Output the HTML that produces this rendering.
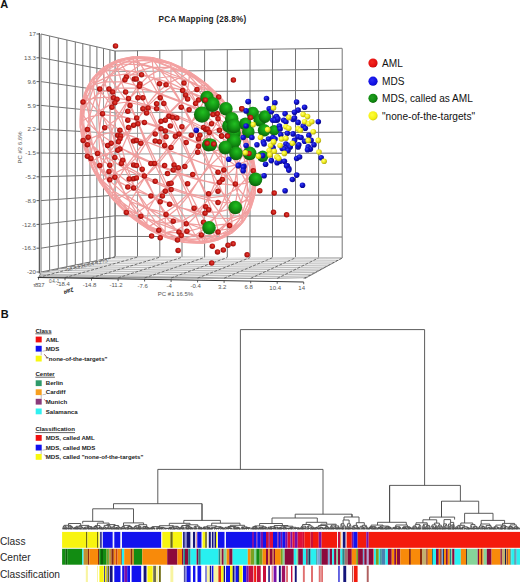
<!DOCTYPE html><html><head><meta charset="utf-8"><style>html,body{margin:0;padding:0;background:#fff;}svg{display:block;}text{font-family:"Liberation Sans",sans-serif;}</style></head><body>
<svg width="520" height="582" viewBox="0 0 520 582">
<defs>
<radialGradient id="gr" cx="0.55" cy="0.45" r="0.7"><stop offset="0" stop-color="#e2443c"/><stop offset="0.45" stop-color="#c41812"/><stop offset="1" stop-color="#760808"/></radialGradient>
<radialGradient id="gb" cx="0.38" cy="0.35" r="0.7"><stop offset="0" stop-color="#3a44f0"/><stop offset="0.45" stop-color="#1010d0"/><stop offset="1" stop-color="#0a0a80"/></radialGradient>
<radialGradient id="gy" cx="0.38" cy="0.35" r="0.7"><stop offset="0" stop-color="#ffff80"/><stop offset="0.45" stop-color="#f4f020"/><stop offset="1" stop-color="#a8a010"/></radialGradient>
<radialGradient id="gg" cx="0.55" cy="0.35" r="0.75"><stop offset="0" stop-color="#22c022"/><stop offset="0.5" stop-color="#129012"/><stop offset="1" stop-color="#0a500a"/></radialGradient>
<radialGradient id="lgr" cx="0.4" cy="0.4" r="0.65"><stop offset="0" stop-color="#f42a20"/><stop offset="0.7" stop-color="#e41010"/><stop offset="1" stop-color="#b80c0c"/></radialGradient>
<radialGradient id="lgb" cx="0.4" cy="0.4" r="0.65"><stop offset="0" stop-color="#2a2af4"/><stop offset="0.7" stop-color="#1010e4"/><stop offset="1" stop-color="#0c0cb0"/></radialGradient>
<radialGradient id="lgg" cx="0.4" cy="0.4" r="0.65"><stop offset="0" stop-color="#20a020"/><stop offset="0.7" stop-color="#108810"/><stop offset="1" stop-color="#0a600a"/></radialGradient>
<radialGradient id="lgy" cx="0.4" cy="0.4" r="0.65"><stop offset="0" stop-color="#ffff40"/><stop offset="0.7" stop-color="#f4f010"/><stop offset="1" stop-color="#c8c010"/></radialGradient>
</defs>
<rect width="520" height="582" fill="#fff"/>
<text x="0.3" y="8.4" font-size="11" font-weight="bold" fill="#111">A</text>
<text x="158.5" y="21.6" font-size="8.2" font-weight="bold" fill="#222" textLength="87.8" lengthAdjust="spacing">PCA Mapping (28.8%)</text>
<path d="M41.0 34.0V273.0 M49.6 36.0V271.1 M58.3 38.0V269.3 M66.9 40.0V267.4 M75.3 41.9V265.6 M82.8 43.6V264.0 M90.0 45.3V262.4 M96.9 46.8V260.9 M103.5 48.4V259.5 M109.9 49.8V258.1 M115.0 51.0V257.0 M41 34.0L115 51.0 M41 57.8L115 71.6 M41 81.6L115 92.2 M41 105.4L115 112.8 M41 129.2L115 133.4 M41 153.0L115 154.0 M41 176.8L115 174.6 M41 200.6L115 195.2 M41 224.4L115 215.8 M41 248.2L115 236.4 M41 272.0L115 257.0 M115.2 51.0V257.0 M137.5 50.7V257.1 M159.8 50.5V257.2 M182.0 50.2V257.3 M204.6 49.9V257.4 M227.3 49.7V257.5 M250.0 49.4V257.6 M272.5 49.1V257.7 M295.5 48.9V257.8 M318.6 48.6V257.9 M342.2 48.3V258.0 M115 51.0L342 48.3 M115 71.6L342 69.3 M115 92.2L342 90.2 M115 112.8L342 111.2 M115 133.4L342 132.2 M115 154.0L342 153.1 M115 174.6L342 174.1 M115 195.2L342 195.1 M115 215.8L342 216.1 M115 236.4L342 237.0 M115 257.0L342 258.0" stroke="#747474" stroke-width="1" fill="none"/>
<path d="M39.3 33V273.5" stroke="#333" stroke-width="1" fill="none"/>
<path d="M36.5 34.0H39.3" stroke="#333" stroke-width="0.8"/>
<text x="36" y="36.2" font-size="6.2" fill="#555" text-anchor="end">17</text>
<path d="M36.5 57.8H39.3" stroke="#333" stroke-width="0.8"/>
<text x="36" y="60.0" font-size="6.2" fill="#555" text-anchor="end">13.3</text>
<path d="M36.5 81.6H39.3" stroke="#333" stroke-width="0.8"/>
<text x="36" y="83.8" font-size="6.2" fill="#555" text-anchor="end">9.6</text>
<path d="M36.5 105.4H39.3" stroke="#333" stroke-width="0.8"/>
<text x="36" y="107.6" font-size="6.2" fill="#555" text-anchor="end">5.9</text>
<path d="M36.5 129.2H39.3" stroke="#333" stroke-width="0.8"/>
<text x="36" y="131.4" font-size="6.2" fill="#555" text-anchor="end">2.2</text>
<path d="M36.5 153.0H39.3" stroke="#333" stroke-width="0.8"/>
<text x="36" y="155.2" font-size="6.2" fill="#555" text-anchor="end">-1.5</text>
<path d="M36.5 176.8H39.3" stroke="#333" stroke-width="0.8"/>
<text x="36" y="179.0" font-size="6.2" fill="#555" text-anchor="end">-5.2</text>
<path d="M36.5 200.6H39.3" stroke="#333" stroke-width="0.8"/>
<text x="36" y="202.8" font-size="6.2" fill="#555" text-anchor="end">-8.9</text>
<path d="M36.5 224.4H39.3" stroke="#333" stroke-width="0.8"/>
<text x="36" y="226.6" font-size="6.2" fill="#555" text-anchor="end">-12.6</text>
<path d="M36.5 248.2H39.3" stroke="#333" stroke-width="0.8"/>
<text x="36" y="250.4" font-size="6.2" fill="#555" text-anchor="end">-16.3</text>
<path d="M36.5 272.0H39.3" stroke="#333" stroke-width="0.8"/>
<text x="36" y="274.2" font-size="6.2" fill="#555" text-anchor="end">-20</text>
<text transform="translate(21.5,147.5) rotate(-90)" font-size="6" fill="#555" text-anchor="middle">PC #2 6.6%</text>
<polygon points="41,273 115,257 342,258 305,278.5 38.5,277.5" fill="#bdbdbd" stroke="#6a6a6a" stroke-width="0.8"/>
<path d="M41.0 273.0L305.0 278.5 M49.6 271.1L309.3 276.1 M58.3 269.3L313.6 273.7 M66.9 267.4L317.9 271.3 M75.3 265.6L322.1 269.0 M82.8 264.0L325.9 266.9 M90.0 262.4L329.5 264.9 M96.9 260.9L332.9 263.0 M103.5 259.5L336.2 261.2 M109.9 258.1L339.4 259.4 M115.0 257.0L342.0 258.0" stroke="#f2f2f2" stroke-width="1" fill="none"/>
<path d="M38.5 277.5L115.2 257.0 M65.0 277.6L137.5 257.1 M91.5 277.7L159.8 257.2 M118.1 277.8L182.0 257.3 M144.6 277.9L204.6 257.4 M171.1 278.0L227.3 257.5 M197.6 278.1L250.0 257.6 M224.1 278.2L272.5 257.7 M250.7 278.3L295.5 257.8 M277.2 278.4L318.6 257.9 M303.7 278.5L342.2 258.0" stroke="#555" stroke-width="0.8" stroke-dasharray="3 1.5" fill="none"/>
<path d="M37.7 277.5L303.7 282" stroke="#333" stroke-width="1" fill="none"/>
<path d="M38.5 277.5v2.2" stroke="#333" stroke-width="0.8"/>
<path d="M65.0 278.0v2.2" stroke="#333" stroke-width="0.8"/>
<text x="63.0" y="286.2" font-size="6" fill="#555" text-anchor="middle">-18.4</text>
<path d="M91.5 278.4v2.2" stroke="#333" stroke-width="0.8"/>
<text x="89.5" y="286.6" font-size="6" fill="#555" text-anchor="middle">-14.8</text>
<path d="M118.1 278.9v2.2" stroke="#333" stroke-width="0.8"/>
<text x="116.1" y="287.1" font-size="6" fill="#555" text-anchor="middle">-11.2</text>
<path d="M144.6 279.3v2.2" stroke="#333" stroke-width="0.8"/>
<text x="142.6" y="287.5" font-size="6" fill="#555" text-anchor="middle">-7.6</text>
<path d="M171.1 279.8v2.2" stroke="#333" stroke-width="0.8"/>
<text x="169.1" y="288.0" font-size="6" fill="#555" text-anchor="middle">-4</text>
<path d="M197.6 280.2v2.2" stroke="#333" stroke-width="0.8"/>
<text x="195.6" y="288.4" font-size="6" fill="#555" text-anchor="middle">-0.4</text>
<path d="M224.1 280.7v2.2" stroke="#333" stroke-width="0.8"/>
<text x="222.1" y="288.9" font-size="6" fill="#555" text-anchor="middle">3.2</text>
<path d="M250.7 281.1v2.2" stroke="#333" stroke-width="0.8"/>
<text x="248.7" y="289.3" font-size="6" fill="#555" text-anchor="middle">6.8</text>
<path d="M277.2 281.6v2.2" stroke="#333" stroke-width="0.8"/>
<text x="275.2" y="289.8" font-size="6" fill="#555" text-anchor="middle">10.4</text>
<path d="M303.7 282.0v2.2" stroke="#333" stroke-width="0.8"/>
<text x="301.7" y="290.2" font-size="6" fill="#555" text-anchor="middle">14</text>
<text x="33" y="286.8" font-size="6" fill="#555" letter-spacing="-0.7">т83.7</text>
<text x="49" y="283.3" font-size="4.6" fill="#555" letter-spacing="-0.3">0.4.-1</text>
<text transform="translate(64,294.3) rotate(-22) skewX(-15)" font-size="6.2" font-weight="bold" fill="#222">ʁɐɀ</text>
<text transform="translate(66,271.5) rotate(-12.5)" font-size="4.6" fill="#555" letter-spacing="-0.3">-1.3 -5.9 2.6 -8.4 -4.2 7.3</text>
<text x="175.5" y="295.5" font-size="6" fill="#555" text-anchor="middle">PC #1 16.5%</text>
<ellipse cx="168.05" cy="149.95" rx="105.0" ry="74.3" transform="rotate(50.14 168.05 149.95)" fill="#fff" opacity="0.3"/>
<path d="M122.0 148.5L137.7 156.1 M122.0 148.5L128.0 134.8 M122.0 148.5L126.9 166.9 M122.0 148.5L110.6 152.3 M122.0 148.5L111.2 132.5 M137.7 156.1L157.6 164.7 M137.7 156.1L128.0 134.8 M137.7 156.1L146.7 141.9 M137.7 156.1L126.9 166.9 M137.7 156.1L145.5 176.9 M157.6 164.7L179.2 172.9 M157.6 164.7L146.7 141.9 M157.6 164.7L169.0 150.4 M157.6 164.7L145.5 176.9 M157.6 164.7L167.8 186.5 M179.2 172.9L199.0 179.4 M179.2 172.9L169.0 150.4 M179.2 172.9L191.3 158.9 M179.2 172.9L167.8 186.5 M179.2 172.9L190.1 193.8 M199.0 179.4L214.7 183.7 M199.0 179.4L191.3 158.9 M199.0 179.4L209.8 165.9 M199.0 179.4L190.1 193.8 M199.0 179.4L208.7 197.9 M214.7 183.7L209.8 165.9 M214.7 183.7L208.7 197.9 M214.7 183.7L225.4 195.8 M214.7 183.7L226.0 176.1 M128.0 134.8L146.7 141.9 M128.0 134.8L137.0 119.7 M128.0 134.8L111.2 132.5 M128.0 134.8L117.7 116.2 M146.7 141.9L169.0 150.4 M146.7 141.9L137.0 119.7 M146.7 141.9L158.1 126.4 M169.0 150.4L191.3 158.9 M169.0 150.4L158.1 126.4 M169.0 150.4L181.1 135.2 M191.3 158.9L209.8 165.9 M191.3 158.9L181.1 135.2 M191.3 158.9L201.9 144.3 M209.8 165.9L201.9 144.3 M209.8 165.9L226.0 176.1 M209.8 165.9L220.8 155.3 M137.0 119.7L158.1 126.4 M137.0 119.7L148.4 105.4 M137.0 119.7L117.7 116.2 M137.0 119.7L128.2 99.8 M158.1 126.4L181.1 135.2 M158.1 126.4L148.4 105.4 M158.1 126.4L170.1 112.5 M181.1 135.2L201.9 144.3 M181.1 135.2L170.1 112.5 M181.1 135.2L191.7 121.8 M201.9 144.3L191.7 121.8 M201.9 144.3L220.8 155.3 M201.9 144.3L211.6 131.5 M148.4 105.4L170.1 112.5 M148.4 105.4L160.2 94.4 M148.4 105.4L128.2 99.8 M148.4 105.4L141.2 86.7 M170.1 112.5L191.7 121.8 M170.1 112.5L160.2 94.4 M170.1 112.5L180.7 102.1 M191.7 121.8L180.7 102.1 M191.7 121.8L211.6 131.5 M191.7 121.8L199.6 108.9 M160.2 94.4L180.7 102.1 M160.2 94.4L170.7 87.3 M160.2 94.4L141.2 86.7 M160.2 94.4L154.2 78.5 M180.7 102.1L170.7 87.3 M180.7 102.1L199.6 108.9 M180.7 102.1L187.3 91.1 M170.7 87.3L154.2 78.5 M170.7 87.3L187.3 91.1 M170.7 87.3L170.9 76.5 M126.9 166.9L134.7 187.5 M126.9 166.9L145.5 176.9 M126.9 166.9L110.6 152.3 M126.9 166.9L115.8 172.7 M134.7 187.5L145.0 207.1 M134.7 187.5L145.5 176.9 M134.7 187.5L155.6 198.7 M134.7 187.5L115.8 172.7 M134.7 187.5L125.0 194.4 M145.0 207.1L155.9 222.4 M145.0 207.1L155.6 198.7 M145.0 207.1L166.5 217.3 M145.0 207.1L125.0 194.4 M145.0 207.1L136.9 213.2 M155.9 222.4L165.8 232.5 M155.9 222.4L166.5 217.3 M155.9 222.4L176.3 230.2 M155.9 222.4L136.9 213.2 M155.9 222.4L149.2 226.4 M165.8 232.5L176.3 230.2 M165.8 232.5L149.2 226.4 M165.8 232.5L182.2 238.9 M165.8 232.5L165.4 236.6 M145.5 176.9L155.6 198.7 M145.5 176.9L167.8 186.5 M155.6 198.7L166.5 217.3 M155.6 198.7L167.8 186.5 M155.6 198.7L178.7 207.4 M166.5 217.3L176.3 230.2 M166.5 217.3L178.7 207.4 M166.5 217.3L188.2 223.5 M176.3 230.2L188.2 223.5 M176.3 230.2L182.2 238.9 M176.3 230.2L195.3 235.3 M167.8 186.5L178.7 207.4 M167.8 186.5L190.1 193.8 M178.7 207.4L188.2 223.5 M178.7 207.4L190.1 193.8 M178.7 207.4L199.6 212.1 M188.2 223.5L199.6 212.1 M188.2 223.5L195.3 235.3 M188.2 223.5L208.4 226.1 M190.1 193.8L199.6 212.1 M190.1 193.8L208.7 197.9 M199.6 212.1L208.7 197.9 M199.6 212.1L208.4 226.1 M199.6 212.1L218.9 211.8 M208.7 197.9L218.9 211.8 M208.7 197.9L225.4 195.8 M110.6 152.3L100.1 156.6 M110.6 152.3L115.8 172.7 M110.6 152.3L111.2 132.5 M110.6 152.3L98.7 135.2 M100.1 156.6L93.0 160.8 M100.1 156.6L115.8 172.7 M100.1 156.6L106.5 177.9 M100.1 156.6L98.7 135.2 M100.1 156.6L88.8 139.1 M93.0 160.8L90.4 164.1 M93.0 160.8L106.5 177.9 M93.0 160.8L101.2 181.3 M93.0 160.8L88.8 139.1 M93.0 160.8L84.0 143.8 M90.4 164.1L91.5 166.4 M90.4 164.1L101.2 181.3 M90.4 164.1L100.1 182.6 M90.4 164.1L84.0 143.8 M90.4 164.1L84.4 148.3 M91.5 166.4L100.1 182.6 M91.5 166.4L84.4 148.3 M91.5 166.4L90.3 157.0 M91.5 166.4L100.0 178.2 M115.8 172.7L106.5 177.9 M115.8 172.7L125.0 194.4 M106.5 177.9L101.2 181.3 M106.5 177.9L125.0 194.4 M106.5 177.9L117.4 198.8 M101.2 181.3L100.1 182.6 M101.2 181.3L117.4 198.8 M101.2 181.3L113.4 200.0 M100.1 182.6L113.4 200.0 M100.1 182.6L100.0 178.2 M100.1 182.6L111.6 196.8 M125.0 194.4L117.4 198.8 M125.0 194.4L136.9 213.2 M117.4 198.8L113.4 200.0 M117.4 198.8L136.9 213.2 M117.4 198.8L130.7 215.4 M113.4 200.0L130.7 215.4 M113.4 200.0L111.6 196.8 M113.4 200.0L128.2 214.8 M136.9 213.2L130.7 215.4 M136.9 213.2L149.2 226.4 M130.7 215.4L149.2 226.4 M130.7 215.4L128.2 214.8 M130.7 215.4L147.3 228.6 M149.2 226.4L147.3 228.6 M149.2 226.4L165.4 236.6 M111.2 132.5L101.5 114.7 M111.2 132.5L98.7 135.2 M111.2 132.5L117.7 116.2 M101.5 114.7L95.1 97.9 M101.5 114.7L98.7 135.2 M101.5 114.7L89.5 116.8 M101.5 114.7L117.7 116.2 M101.5 114.7L109.2 97.1 M95.1 97.9L93.1 85.0 M95.1 97.9L89.5 116.8 M95.1 97.9L85.5 100.6 M95.1 97.9L109.2 97.1 M95.1 97.9L104.5 81.6 M93.1 85.0L94.6 76.6 M93.1 85.0L85.5 100.6 M93.1 85.0L86.4 88.9 M93.1 85.0L104.5 81.6 M93.1 85.0L103.8 71.5 M94.6 76.6L86.4 88.9 M94.6 76.6L103.8 71.5 M94.6 76.6L103.8 67.1 M94.6 76.6L93.0 77.9 M98.7 135.2L89.5 116.8 M98.7 135.2L88.8 139.1 M89.5 116.8L85.5 100.6 M89.5 116.8L88.8 139.1 M89.5 116.8L82.0 121.3 M85.5 100.6L86.4 88.9 M85.5 100.6L82.0 121.3 M85.5 100.6L80.9 106.3 M86.4 88.9L80.9 106.3 M86.4 88.9L93.0 77.9 M86.4 88.9L85.4 92.8 M88.8 139.1L82.0 121.3 M88.8 139.1L84.0 143.8 M82.0 121.3L80.9 106.3 M82.0 121.3L84.0 143.8 M82.0 121.3L80.2 127.2 M80.9 106.3L80.2 127.2 M80.9 106.3L85.4 92.8 M80.9 106.3L81.8 113.2 M84.0 143.8L80.2 127.2 M84.0 143.8L84.4 148.3 M80.2 127.2L84.4 148.3 M80.2 127.2L81.8 113.2 M80.2 127.2L83.9 136.0 M84.4 148.3L83.9 136.0 M84.4 148.3L90.3 157.0 M117.7 116.2L128.2 99.8 M117.7 116.2L109.2 97.1 M128.2 99.8L141.2 86.7 M128.2 99.8L109.2 97.1 M128.2 99.8L121.4 81.9 M141.2 86.7L154.2 78.5 M141.2 86.7L121.4 81.9 M141.2 86.7L135.6 71.9 M154.2 78.5L135.6 71.9 M154.2 78.5L170.9 76.5 M154.2 78.5L152.8 67.2 M109.2 97.1L121.4 81.9 M109.2 97.1L104.5 81.6 M121.4 81.9L135.6 71.9 M121.4 81.9L104.5 81.6 M121.4 81.9L117.9 69.4 M135.6 71.9L117.9 69.4 M135.6 71.9L152.8 67.2 M135.6 71.9L133.4 61.7 M104.5 81.6L117.9 69.4 M104.5 81.6L103.8 71.5 M117.9 69.4L103.8 71.5 M117.9 69.4L133.4 61.7 M117.9 69.4L116.2 62.0 M103.8 71.5L116.2 62.0 M103.8 71.5L103.8 67.1 M182.2 238.9L200.7 242.0 M182.2 238.9L195.3 235.3 M182.2 238.9L165.4 236.6 M182.2 238.9L183.4 242.3 M200.7 242.0L218.4 239.8 M200.7 242.0L195.3 235.3 M200.7 242.0L215.1 235.9 M200.7 242.0L202.8 243.1 M200.7 242.0L183.4 242.3 M218.4 239.8L232.3 232.8 M218.4 239.8L215.1 235.9 M218.4 239.8L231.8 230.9 M218.4 239.8L219.9 237.9 M218.4 239.8L202.8 243.1 M232.3 232.8L241.5 223.3 M232.3 232.8L231.8 230.9 M232.3 232.8L243.1 222.0 M232.3 232.8L232.3 228.4 M232.3 232.8L219.9 237.9 M241.5 223.3L243.1 222.0 M241.5 223.3L243.0 214.9 M241.5 223.3L249.7 211.0 M241.5 223.3L232.3 228.4 M195.3 235.3L215.1 235.9 M195.3 235.3L208.4 226.1 M215.1 235.9L231.8 230.9 M215.1 235.9L208.4 226.1 M215.1 235.9L227.2 223.8 M231.8 230.9L243.1 222.0 M231.8 230.9L227.2 223.8 M231.8 230.9L241.2 217.0 M243.1 222.0L241.2 217.0 M243.1 222.0L249.7 211.0 M243.1 222.0L250.7 207.1 M208.4 226.1L227.2 223.8 M208.4 226.1L218.9 211.8 M227.2 223.8L241.2 217.0 M227.2 223.8L218.9 211.8 M227.2 223.8L235.0 207.8 M241.2 217.0L235.0 207.8 M241.2 217.0L246.9 199.1 M241.2 217.0L250.7 207.1 M218.9 211.8L235.0 207.8 M218.9 211.8L225.4 195.8 M235.0 207.8L225.4 195.8 M235.0 207.8L237.8 188.0 M235.0 207.8L246.9 199.1 M225.4 195.8L226.0 176.1 M225.4 195.8L237.8 188.0 M226.0 176.1L236.4 165.9 M226.0 176.1L220.8 155.3 M226.0 176.1L237.8 188.0 M236.4 165.9L243.4 154.2 M236.4 165.9L220.8 155.3 M236.4 165.9L230.0 143.0 M236.4 165.9L247.6 176.8 M236.4 165.9L237.8 188.0 M243.4 154.2L245.8 142.9 M243.4 154.2L230.0 143.0 M243.4 154.2L235.2 131.1 M243.4 154.2L252.2 163.9 M243.4 154.2L247.6 176.8 M245.8 142.9L244.6 133.5 M245.8 142.9L235.2 131.1 M245.8 142.9L236.1 121.7 M245.8 142.9L251.7 151.6 M245.8 142.9L252.2 163.9 M244.6 133.5L236.1 121.7 M244.6 133.5L245.7 135.8 M244.6 133.5L251.7 151.6 M244.6 133.5L236.0 117.3 M220.8 155.3L230.0 143.0 M220.8 155.3L211.6 131.5 M230.0 143.0L235.2 131.1 M230.0 143.0L211.6 131.5 M230.0 143.0L219.0 119.0 M235.2 131.1L236.1 121.7 M235.2 131.1L219.0 119.0 M235.2 131.1L222.9 109.2 M236.1 121.7L222.9 109.2 M236.1 121.7L236.0 117.3 M236.1 121.7L224.5 103.1 M211.6 131.5L219.0 119.0 M211.6 131.5L199.6 108.9 M219.0 119.0L222.9 109.2 M219.0 119.0L199.6 108.9 M219.0 119.0L205.6 98.4 M222.9 109.2L205.6 98.4 M222.9 109.2L208.0 90.1 M222.9 109.2L224.5 103.1 M199.6 108.9L205.6 98.4 M199.6 108.9L187.3 91.1 M205.6 98.4L187.3 91.1 M205.6 98.4L188.9 80.9 M205.6 98.4L208.0 90.1 M187.3 91.1L170.9 76.5 M187.3 91.1L188.9 80.9 M170.9 76.5L171.0 67.6 M170.9 76.5L152.8 67.2 M170.9 76.5L188.9 80.9 M171.0 67.6L170.9 62.9 M171.0 67.6L152.8 67.2 M171.0 67.6L152.2 59.4 M171.0 67.6L189.5 73.6 M171.0 67.6L188.9 80.9 M170.9 62.9L170.7 63.3 M170.9 62.9L152.2 59.4 M170.9 62.9L152.7 57.6 M170.9 62.9L188.8 71.3 M170.9 62.9L189.5 73.6 M170.7 63.3L170.3 67.4 M170.7 63.3L152.7 57.6 M170.7 63.3L153.9 61.0 M170.7 63.3L186.9 73.5 M170.7 63.3L188.8 71.3 M170.3 67.4L153.9 61.0 M170.3 67.4L180.2 77.5 M170.3 67.4L186.9 73.5 M170.3 67.4L159.8 69.7 M152.8 67.2L152.2 59.4 M152.8 67.2L133.4 61.7 M152.2 59.4L152.7 57.6 M152.2 59.4L133.4 61.7 M152.2 59.4L133.3 56.8 M152.7 57.6L153.9 61.0 M152.7 57.6L133.3 56.8 M152.7 57.6L135.4 57.9 M153.9 61.0L135.4 57.9 M153.9 61.0L159.8 69.7 M153.9 61.0L140.8 64.6 M133.4 61.7L133.3 56.8 M133.4 61.7L116.2 62.0 M133.3 56.8L135.4 57.9 M133.3 56.8L116.2 62.0 M133.3 56.8L117.7 60.1 M135.4 57.9L117.7 60.1 M135.4 57.9L121.0 64.0 M135.4 57.9L140.8 64.6 M116.2 62.0L117.7 60.1 M116.2 62.0L103.8 67.1 M117.7 60.1L103.8 67.1 M117.7 60.1L104.3 69.0 M117.7 60.1L121.0 64.0 M103.8 67.1L93.0 77.9 M103.8 67.1L104.3 69.0 M93.0 77.9L94.9 82.9 M93.0 77.9L85.4 92.8 M93.0 77.9L104.3 69.0 M94.9 82.9L101.1 92.1 M94.9 82.9L85.4 92.8 M94.9 82.9L89.2 100.8 M94.9 82.9L108.9 76.1 M94.9 82.9L104.3 69.0 M101.1 92.1L110.7 104.1 M101.1 92.1L89.2 100.8 M101.1 92.1L98.3 111.9 M101.1 92.1L117.2 88.1 M101.1 92.1L108.9 76.1 M110.7 104.1L121.4 116.2 M110.7 104.1L98.3 111.9 M110.7 104.1L110.1 123.8 M110.7 104.1L127.4 102.0 M110.7 104.1L117.2 88.1 M121.4 116.2L110.1 123.8 M121.4 116.2L137.1 120.5 M121.4 116.2L127.4 102.0 M121.4 116.2L126.3 134.0 M85.4 92.8L89.2 100.8 M85.4 92.8L81.8 113.2 M89.2 100.8L98.3 111.9 M89.2 100.8L81.8 113.2 M89.2 100.8L88.5 123.1 M98.3 111.9L110.1 123.8 M98.3 111.9L88.5 123.1 M98.3 111.9L99.7 134.0 M110.1 123.8L99.7 134.0 M110.1 123.8L126.3 134.0 M110.1 123.8L115.3 144.6 M81.8 113.2L88.5 123.1 M81.8 113.2L83.9 136.0 M88.5 123.1L99.7 134.0 M88.5 123.1L83.9 136.0 M88.5 123.1L92.7 145.7 M99.7 134.0L92.7 145.7 M99.7 134.0L106.1 156.9 M99.7 134.0L115.3 144.6 M83.9 136.0L92.7 145.7 M83.9 136.0L90.3 157.0 M92.7 145.7L90.3 157.0 M92.7 145.7L100.9 168.8 M92.7 145.7L106.1 156.9 M90.3 157.0L100.0 178.2 M90.3 157.0L100.9 168.8 M100.0 178.2L113.2 190.7 M100.0 178.2L111.6 196.8 M100.0 178.2L100.9 168.8 M113.2 190.7L130.5 201.5 M113.2 190.7L111.6 196.8 M113.2 190.7L128.1 209.8 M113.2 190.7L117.1 180.9 M113.2 190.7L100.9 168.8 M130.5 201.5L148.8 208.8 M130.5 201.5L128.1 209.8 M130.5 201.5L147.2 219.0 M130.5 201.5L136.5 191.0 M130.5 201.5L117.1 180.9 M148.8 208.8L165.4 212.6 M148.8 208.8L147.2 219.0 M148.8 208.8L165.2 223.4 M148.8 208.8L155.4 197.8 M148.8 208.8L136.5 191.0 M165.4 212.6L165.2 223.4 M165.4 212.6L175.9 205.5 M165.4 212.6L155.4 197.8 M165.4 212.6L181.9 221.4 M111.6 196.8L128.1 209.8 M111.6 196.8L128.2 214.8 M128.1 209.8L147.2 219.0 M128.1 209.8L128.2 214.8 M128.1 209.8L146.6 226.3 M147.2 219.0L165.2 223.4 M147.2 219.0L146.6 226.3 M147.2 219.0L165.1 232.3 M165.2 223.4L165.1 232.3 M165.2 223.4L181.9 221.4 M165.2 223.4L183.3 232.7 M128.2 214.8L146.6 226.3 M128.2 214.8L147.3 228.6 M146.6 226.3L165.1 232.3 M146.6 226.3L147.3 228.6 M146.6 226.3L165.2 237.0 M165.1 232.3L165.2 237.0 M165.1 232.3L183.9 240.5 M165.1 232.3L183.3 232.7 M147.3 228.6L165.2 237.0 M147.3 228.6L165.4 236.6 M165.2 237.0L165.4 236.6 M165.2 237.0L183.4 242.3 M165.2 237.0L183.9 240.5 M165.4 236.6L183.4 242.3 M214.1 151.4L225.5 147.6 M214.1 151.4L224.9 167.4 M214.1 151.4L209.2 133.0 M214.1 151.4L198.4 143.8 M214.1 151.4L208.1 165.1 M225.5 147.6L236.0 143.3 M225.5 147.6L224.9 167.4 M225.5 147.6L237.4 164.7 M225.5 147.6L209.2 133.0 M225.5 147.6L220.3 127.2 M236.0 143.3L243.1 139.1 M236.0 143.3L237.4 164.7 M236.0 143.3L247.3 160.8 M236.0 143.3L220.3 127.2 M236.0 143.3L229.6 122.0 M243.1 139.1L245.7 135.8 M243.1 139.1L247.3 160.8 M243.1 139.1L252.1 156.1 M243.1 139.1L229.6 122.0 M243.1 139.1L234.9 118.6 M245.7 135.8L252.1 156.1 M245.7 135.8L251.7 151.6 M245.7 135.8L234.9 118.6 M245.7 135.8L236.0 117.3 M224.9 167.4L237.4 164.7 M224.9 167.4L234.6 185.2 M224.9 167.4L208.1 165.1 M224.9 167.4L218.4 183.7 M237.4 164.7L247.3 160.8 M237.4 164.7L234.6 185.2 M237.4 164.7L246.6 183.1 M247.3 160.8L252.1 156.1 M247.3 160.8L246.6 183.1 M247.3 160.8L254.1 178.6 M252.1 156.1L251.7 151.6 M252.1 156.1L254.1 178.6 M252.1 156.1L255.9 172.7 M251.7 151.6L255.9 172.7 M251.7 151.6L252.2 163.9 M234.6 185.2L246.6 183.1 M234.6 185.2L241.0 202.0 M234.6 185.2L218.4 183.7 M234.6 185.2L226.9 202.8 M246.6 183.1L254.1 178.6 M246.6 183.1L241.0 202.0 M246.6 183.1L250.6 199.3 M254.1 178.6L255.9 172.7 M254.1 178.6L250.6 199.3 M254.1 178.6L255.2 193.6 M255.9 172.7L255.2 193.6 M255.9 172.7L252.2 163.9 M255.9 172.7L254.3 186.7 M241.0 202.0L250.6 199.3 M241.0 202.0L243.0 214.9 M241.0 202.0L226.9 202.8 M241.0 202.0L231.6 218.3 M250.6 199.3L255.2 193.6 M250.6 199.3L243.0 214.9 M250.6 199.3L249.7 211.0 M255.2 193.6L249.7 211.0 M255.2 193.6L254.3 186.7 M255.2 193.6L250.7 207.1 M243.0 214.9L249.7 211.0 M243.0 214.9L231.6 218.3 M243.0 214.9L232.3 228.4 M249.7 211.0L250.7 207.1 M209.2 133.0L201.4 112.4 M209.2 133.0L220.3 127.2 M209.2 133.0L198.4 143.8 M209.2 133.0L190.6 123.0 M201.4 112.4L191.1 92.8 M201.4 112.4L220.3 127.2 M201.4 112.4L211.1 105.5 M201.4 112.4L190.6 123.0 M201.4 112.4L180.5 101.2 M191.1 92.8L180.2 77.5 M191.1 92.8L211.1 105.5 M191.1 92.8L199.2 86.7 M191.1 92.8L180.5 101.2 M191.1 92.8L169.6 82.6 M180.2 77.5L199.2 86.7 M180.2 77.5L186.9 73.5 M180.2 77.5L169.6 82.6 M180.2 77.5L159.8 69.7 M220.3 127.2L211.1 105.5 M220.3 127.2L229.6 122.0 M211.1 105.5L199.2 86.7 M211.1 105.5L229.6 122.0 M211.1 105.5L218.7 101.1 M199.2 86.7L186.9 73.5 M199.2 86.7L218.7 101.1 M199.2 86.7L205.4 84.5 M186.9 73.5L205.4 84.5 M186.9 73.5L188.8 71.3 M229.6 122.0L218.7 101.1 M229.6 122.0L234.9 118.6 M218.7 101.1L205.4 84.5 M218.7 101.1L234.9 118.6 M218.7 101.1L222.7 99.9 M205.4 84.5L222.7 99.9 M205.4 84.5L188.8 71.3 M205.4 84.5L207.9 85.1 M234.9 118.6L222.7 99.9 M234.9 118.6L236.0 117.3 M222.7 99.9L236.0 117.3 M222.7 99.9L207.9 85.1 M222.7 99.9L224.5 103.1 M236.0 117.3L224.5 103.1 M198.4 143.8L178.5 135.2 M198.4 143.8L190.6 123.0 M198.4 143.8L208.1 165.1 M198.4 143.8L189.4 158.0 M178.5 135.2L156.9 127.0 M178.5 135.2L190.6 123.0 M178.5 135.2L168.3 113.4 M178.5 135.2L189.4 158.0 M178.5 135.2L167.1 149.5 M156.9 127.0L137.1 120.5 M156.9 127.0L168.3 113.4 M156.9 127.0L146.0 106.1 M156.9 127.0L167.1 149.5 M156.9 127.0L144.8 141.0 M137.1 120.5L146.0 106.1 M137.1 120.5L127.4 102.0 M137.1 120.5L144.8 141.0 M137.1 120.5L126.3 134.0 M190.6 123.0L168.3 113.4 M190.6 123.0L180.5 101.2 M168.3 113.4L146.0 106.1 M168.3 113.4L180.5 101.2 M168.3 113.4L157.4 92.5 M146.0 106.1L127.4 102.0 M146.0 106.1L157.4 92.5 M146.0 106.1L136.5 87.8 M127.4 102.0L136.5 87.8 M127.4 102.0L117.2 88.1 M180.5 101.2L157.4 92.5 M180.5 101.2L169.6 82.6 M157.4 92.5L136.5 87.8 M157.4 92.5L169.6 82.6 M157.4 92.5L147.9 76.4 M136.5 87.8L147.9 76.4 M136.5 87.8L117.2 88.1 M136.5 87.8L127.7 73.8 M169.6 82.6L147.9 76.4 M169.6 82.6L159.8 69.7 M147.9 76.4L159.8 69.7 M147.9 76.4L127.7 73.8 M147.9 76.4L140.8 64.6 M159.8 69.7L140.8 64.6 M208.1 165.1L199.1 180.2 M208.1 165.1L189.4 158.0 M208.1 165.1L218.4 183.7 M199.1 180.2L187.7 194.5 M199.1 180.2L189.4 158.0 M199.1 180.2L178.0 173.5 M199.1 180.2L218.4 183.7 M199.1 180.2L207.9 200.1 M187.7 194.5L175.9 205.5 M187.7 194.5L178.0 173.5 M187.7 194.5L166.0 187.4 M187.7 194.5L207.9 200.1 M187.7 194.5L194.9 213.2 M175.9 205.5L166.0 187.4 M175.9 205.5L155.4 197.8 M175.9 205.5L194.9 213.2 M175.9 205.5L181.9 221.4 M189.4 158.0L178.0 173.5 M189.4 158.0L167.1 149.5 M178.0 173.5L166.0 187.4 M178.0 173.5L167.1 149.5 M178.0 173.5L155.0 164.7 M166.0 187.4L155.4 197.8 M166.0 187.4L155.0 164.7 M166.0 187.4L144.4 178.1 M155.4 197.8L144.4 178.1 M155.4 197.8L136.5 191.0 M167.1 149.5L155.0 164.7 M167.1 149.5L144.8 141.0 M155.0 164.7L144.4 178.1 M155.0 164.7L144.8 141.0 M155.0 164.7L134.2 155.6 M144.4 178.1L134.2 155.6 M144.4 178.1L136.5 191.0 M144.4 178.1L124.5 168.4 M144.8 141.0L134.2 155.6 M144.8 141.0L126.3 134.0 M134.2 155.6L126.3 134.0 M134.2 155.6L124.5 168.4 M134.2 155.6L115.3 144.6 M126.3 134.0L115.3 144.6 M218.4 183.7L226.9 202.8 M218.4 183.7L207.9 200.1 M226.9 202.8L231.6 218.3 M226.9 202.8L207.9 200.1 M226.9 202.8L214.7 218.0 M231.6 218.3L232.3 228.4 M231.6 218.3L214.7 218.0 M231.6 218.3L218.2 230.5 M232.3 228.4L218.2 230.5 M232.3 228.4L219.9 237.9 M207.9 200.1L214.7 218.0 M207.9 200.1L194.9 213.2 M214.7 218.0L218.2 230.5 M214.7 218.0L194.9 213.2 M214.7 218.0L200.5 228.0 M218.2 230.5L200.5 228.0 M218.2 230.5L219.9 237.9 M218.2 230.5L202.7 238.2 M194.9 213.2L200.5 228.0 M194.9 213.2L181.9 221.4 M200.5 228.0L181.9 221.4 M200.5 228.0L202.7 238.2 M200.5 228.0L183.3 232.7 M181.9 221.4L183.3 232.7 M252.2 163.9L247.6 176.8 M252.2 163.9L254.3 186.7 M247.6 176.8L237.8 188.0 M247.6 176.8L254.3 186.7 M247.6 176.8L246.9 199.1 M237.8 188.0L246.9 199.1 M254.3 186.7L246.9 199.1 M254.3 186.7L250.7 207.1 M246.9 199.1L250.7 207.1 M188.8 71.3L189.5 73.6 M188.8 71.3L207.9 85.1 M189.5 73.6L188.9 80.9 M189.5 73.6L207.9 85.1 M189.5 73.6L208.0 90.1 M188.9 80.9L208.0 90.1 M207.9 85.1L208.0 90.1 M207.9 85.1L224.5 103.1 M208.0 90.1L224.5 103.1 M117.2 88.1L108.9 76.1 M117.2 88.1L127.7 73.8 M108.9 76.1L104.3 69.0 M108.9 76.1L127.7 73.8 M108.9 76.1L121.0 64.0 M104.3 69.0L121.0 64.0 M127.7 73.8L121.0 64.0 M127.7 73.8L140.8 64.6 M121.0 64.0L140.8 64.6 M136.5 191.0L117.1 180.9 M136.5 191.0L124.5 168.4 M117.1 180.9L100.9 168.8 M117.1 180.9L124.5 168.4 M117.1 180.9L106.1 156.9 M100.9 168.8L106.1 156.9 M124.5 168.4L106.1 156.9 M124.5 168.4L115.3 144.6 M106.1 156.9L115.3 144.6 M219.9 237.9L202.8 243.1 M219.9 237.9L202.7 238.2 M202.8 243.1L183.4 242.3 M202.8 243.1L202.7 238.2 M202.8 243.1L183.9 240.5 M183.4 242.3L183.9 240.5 M202.7 238.2L183.9 240.5 M202.7 238.2L183.3 232.7 M183.9 240.5L183.3 232.7" stroke="#f09e9e" stroke-width="1.25" fill="none" stroke-linecap="round"/>
<ellipse cx="168.05" cy="149.95" rx="104.47" ry="73.93" transform="rotate(50.14 168.05 149.95)" fill="none" stroke="#f4a2a2" stroke-width="1.5"/>
<ellipse cx="168.05" cy="149.95" rx="102.48" ry="72.52" transform="rotate(50.14 168.05 149.95)" fill="none" stroke="#f4a2a2" stroke-width="1.2"/>
<ellipse cx="168.05" cy="149.95" rx="100.27" ry="70.96" transform="rotate(50.14 168.05 149.95)" fill="none" stroke="#f4a2a2" stroke-width="1.0"/>
<circle cx="115.5" cy="45.9" r="2.75" fill="url(#gr)"/>
<circle cx="126.3" cy="76.9" r="2.75" fill="url(#gr)"/>
<circle cx="124.9" cy="79.8" r="2.75" fill="url(#gr)"/>
<circle cx="134.3" cy="79.0" r="2.75" fill="url(#gr)"/>
<circle cx="99.7" cy="89.1" r="2.75" fill="url(#gr)"/>
<circle cx="109.0" cy="89.1" r="2.75" fill="url(#gr)"/>
<circle cx="112.6" cy="92.0" r="2.75" fill="url(#gr)"/>
<circle cx="125.6" cy="92.0" r="2.75" fill="url(#gr)"/>
<circle cx="83.0" cy="102.0" r="2.75" fill="url(#gr)"/>
<circle cx="113.4" cy="97.8" r="2.75" fill="url(#gr)"/>
<circle cx="117.0" cy="99.2" r="2.75" fill="url(#gr)"/>
<circle cx="128.5" cy="98.5" r="2.75" fill="url(#gr)"/>
<circle cx="114.8" cy="102.8" r="2.75" fill="url(#gr)"/>
<circle cx="141.5" cy="74.7" r="2.75" fill="url(#gr)"/>
<circle cx="136.2" cy="79.0" r="2.75" fill="url(#gr)"/>
<circle cx="140.0" cy="84.1" r="2.75" fill="url(#gr)"/>
<circle cx="139.3" cy="86.3" r="2.75" fill="url(#gr)"/>
<circle cx="159.5" cy="83.7" r="2.75" fill="url(#gr)"/>
<circle cx="166.0" cy="84.8" r="2.75" fill="url(#gr)"/>
<circle cx="184.0" cy="83.1" r="2.75" fill="url(#gr)"/>
<circle cx="182.6" cy="90.6" r="2.75" fill="url(#gr)"/>
<circle cx="197.0" cy="89.4" r="2.75" fill="url(#gr)"/>
<circle cx="137.9" cy="97.8" r="2.75" fill="url(#gr)"/>
<circle cx="142.9" cy="97.8" r="2.75" fill="url(#gr)"/>
<circle cx="160.2" cy="97.8" r="2.75" fill="url(#gr)"/>
<circle cx="185.5" cy="94.9" r="2.75" fill="url(#gr)"/>
<circle cx="187.6" cy="99.0" r="2.75" fill="url(#gr)"/>
<circle cx="198.5" cy="100.0" r="2.75" fill="url(#gr)"/>
<circle cx="156.6" cy="103.8" r="2.75" fill="url(#gr)"/>
<circle cx="163.8" cy="103.6" r="2.75" fill="url(#gr)"/>
<circle cx="195.6" cy="103.6" r="2.75" fill="url(#gr)"/>
<circle cx="205.2" cy="100.0" r="2.75" fill="url(#gr)"/>
<circle cx="233.4" cy="80.0" r="2.75" fill="url(#gr)"/>
<circle cx="218.7" cy="97.1" r="2.75" fill="url(#gr)"/>
<circle cx="111.9" cy="107.2" r="2.75" fill="url(#gr)"/>
<circle cx="130.0" cy="105.5" r="2.75" fill="url(#gr)"/>
<circle cx="127.8" cy="111.3" r="2.75" fill="url(#gr)"/>
<circle cx="102.5" cy="113.7" r="2.75" fill="url(#gr)"/>
<circle cx="127.8" cy="120.2" r="2.75" fill="url(#gr)"/>
<circle cx="87.4" cy="129.6" r="2.75" fill="url(#gr)"/>
<circle cx="104.7" cy="127.7" r="2.75" fill="url(#gr)"/>
<circle cx="119.9" cy="130.3" r="2.75" fill="url(#gr)"/>
<circle cx="128.5" cy="127.4" r="2.75" fill="url(#gr)"/>
<circle cx="133.6" cy="125.2" r="2.75" fill="url(#gr)"/>
<circle cx="88.1" cy="137.2" r="2.75" fill="url(#gr)"/>
<circle cx="83.1" cy="140.4" r="2.75" fill="url(#gr)"/>
<circle cx="117.7" cy="135.3" r="2.75" fill="url(#gr)"/>
<circle cx="120.6" cy="136.1" r="2.75" fill="url(#gr)"/>
<circle cx="119.9" cy="138.7" r="2.75" fill="url(#gr)"/>
<circle cx="118.4" cy="141.8" r="2.75" fill="url(#gr)"/>
<circle cx="87.4" cy="144.7" r="2.75" fill="url(#gr)"/>
<circle cx="107.6" cy="145.4" r="2.75" fill="url(#gr)"/>
<circle cx="111.2" cy="143.3" r="2.75" fill="url(#gr)"/>
<circle cx="119.9" cy="149.0" r="2.75" fill="url(#gr)"/>
<circle cx="117.7" cy="150.2" r="2.75" fill="url(#gr)"/>
<circle cx="133.6" cy="141.1" r="2.75" fill="url(#gr)"/>
<circle cx="97.5" cy="153.4" r="2.75" fill="url(#gr)"/>
<circle cx="87.4" cy="156.3" r="2.75" fill="url(#gr)"/>
<circle cx="91.0" cy="158.4" r="2.75" fill="url(#gr)"/>
<circle cx="114.8" cy="157.4" r="2.75" fill="url(#gr)"/>
<circle cx="122.7" cy="160.3" r="2.75" fill="url(#gr)"/>
<circle cx="121.3" cy="163.5" r="2.75" fill="url(#gr)"/>
<circle cx="99.7" cy="165.6" r="2.75" fill="url(#gr)"/>
<circle cx="109.8" cy="165.2" r="2.75" fill="url(#gr)"/>
<circle cx="109.0" cy="171.4" r="2.75" fill="url(#gr)"/>
<circle cx="133.6" cy="164.9" r="2.75" fill="url(#gr)"/>
<circle cx="156.6" cy="108.7" r="2.75" fill="url(#gr)"/>
<circle cx="148.0" cy="107.9" r="2.75" fill="url(#gr)"/>
<circle cx="142.9" cy="108.7" r="2.75" fill="url(#gr)"/>
<circle cx="146.5" cy="113.0" r="2.75" fill="url(#gr)"/>
<circle cx="181.2" cy="107.2" r="2.75" fill="url(#gr)"/>
<circle cx="189.1" cy="109.8" r="2.75" fill="url(#gr)"/>
<circle cx="136.7" cy="118.0" r="2.75" fill="url(#gr)"/>
<circle cx="144.4" cy="122.4" r="2.75" fill="url(#gr)"/>
<circle cx="137.9" cy="123.8" r="2.75" fill="url(#gr)"/>
<circle cx="161.0" cy="121.3" r="2.75" fill="url(#gr)"/>
<circle cx="165.3" cy="120.2" r="2.75" fill="url(#gr)"/>
<circle cx="168.9" cy="116.2" r="2.75" fill="url(#gr)"/>
<circle cx="172.5" cy="117.3" r="2.75" fill="url(#gr)"/>
<circle cx="176.8" cy="118.0" r="2.75" fill="url(#gr)"/>
<circle cx="170.3" cy="126.0" r="2.75" fill="url(#gr)"/>
<circle cx="181.9" cy="126.7" r="2.75" fill="url(#gr)"/>
<circle cx="161.0" cy="128.8" r="2.75" fill="url(#gr)"/>
<circle cx="165.3" cy="131.0" r="2.75" fill="url(#gr)"/>
<circle cx="155.2" cy="133.9" r="2.75" fill="url(#gr)"/>
<circle cx="166.0" cy="136.8" r="2.75" fill="url(#gr)"/>
<circle cx="175.4" cy="136.3" r="2.75" fill="url(#gr)"/>
<circle cx="179.0" cy="133.9" r="2.75" fill="url(#gr)"/>
<circle cx="191.3" cy="135.3" r="2.75" fill="url(#gr)"/>
<circle cx="199.9" cy="135.3" r="2.75" fill="url(#gr)"/>
<circle cx="198.5" cy="139.0" r="2.75" fill="url(#gr)"/>
<circle cx="203.5" cy="127.4" r="2.75" fill="url(#gr)"/>
<circle cx="205.7" cy="129.6" r="2.75" fill="url(#gr)"/>
<circle cx="136.4" cy="140.4" r="2.75" fill="url(#gr)"/>
<circle cx="140.8" cy="143.3" r="2.75" fill="url(#gr)"/>
<circle cx="155.2" cy="141.1" r="2.75" fill="url(#gr)"/>
<circle cx="159.5" cy="141.8" r="2.75" fill="url(#gr)"/>
<circle cx="164.6" cy="145.4" r="2.75" fill="url(#gr)"/>
<circle cx="171.0" cy="147.6" r="2.75" fill="url(#gr)"/>
<circle cx="186.2" cy="142.5" r="2.75" fill="url(#gr)"/>
<circle cx="198.5" cy="146.2" r="2.75" fill="url(#gr)"/>
<circle cx="197.7" cy="152.2" r="2.75" fill="url(#gr)"/>
<circle cx="207.1" cy="143.3" r="2.75" fill="url(#gr)"/>
<circle cx="150.9" cy="163.5" r="2.75" fill="url(#gr)"/>
<circle cx="154.5" cy="163.5" r="2.75" fill="url(#gr)"/>
<circle cx="164.6" cy="165.6" r="2.75" fill="url(#gr)"/>
<circle cx="174.0" cy="164.9" r="2.75" fill="url(#gr)"/>
<circle cx="173.2" cy="170.0" r="2.75" fill="url(#gr)"/>
<circle cx="178.3" cy="167.8" r="2.75" fill="url(#gr)"/>
<circle cx="184.8" cy="166.6" r="2.75" fill="url(#gr)"/>
<circle cx="142.2" cy="169.2" r="2.75" fill="url(#gr)"/>
<circle cx="136.4" cy="165.6" r="2.75" fill="url(#gr)"/>
<circle cx="241.8" cy="108.7" r="2.75" fill="url(#gr)"/>
<circle cx="250.4" cy="117.4" r="2.75" fill="url(#gr)"/>
<circle cx="212.9" cy="114.5" r="2.75" fill="url(#gr)"/>
<circle cx="217.3" cy="113.8" r="2.75" fill="url(#gr)"/>
<circle cx="218.0" cy="118.8" r="2.75" fill="url(#gr)"/>
<circle cx="211.5" cy="123.8" r="2.75" fill="url(#gr)"/>
<circle cx="207.2" cy="128.9" r="2.75" fill="url(#gr)"/>
<circle cx="209.3" cy="132.5" r="2.75" fill="url(#gr)"/>
<circle cx="219.4" cy="130.3" r="2.75" fill="url(#gr)"/>
<circle cx="221.6" cy="136.1" r="2.75" fill="url(#gr)"/>
<circle cx="227.4" cy="136.1" r="2.75" fill="url(#gr)"/>
<circle cx="208.6" cy="141.2" r="2.75" fill="url(#gr)"/>
<circle cx="213.7" cy="144.0" r="2.75" fill="url(#gr)"/>
<circle cx="207.9" cy="145.5" r="2.75" fill="url(#gr)"/>
<circle cx="249.0" cy="153.4" r="2.75" fill="url(#gr)"/>
<circle cx="109.8" cy="179.8" r="2.75" fill="url(#gr)"/>
<circle cx="114.8" cy="177.2" r="2.75" fill="url(#gr)"/>
<circle cx="129.2" cy="179.0" r="2.75" fill="url(#gr)"/>
<circle cx="133.6" cy="178.7" r="2.75" fill="url(#gr)"/>
<circle cx="127.8" cy="187.0" r="2.75" fill="url(#gr)"/>
<circle cx="133.6" cy="188.0" r="2.75" fill="url(#gr)"/>
<circle cx="126.3" cy="212.5" r="2.75" fill="url(#gr)"/>
<circle cx="144.4" cy="176.1" r="2.75" fill="url(#gr)"/>
<circle cx="136.4" cy="177.9" r="2.75" fill="url(#gr)"/>
<circle cx="167.5" cy="173.6" r="2.75" fill="url(#gr)"/>
<circle cx="192.7" cy="174.6" r="2.75" fill="url(#gr)"/>
<circle cx="155.2" cy="181.3" r="2.75" fill="url(#gr)"/>
<circle cx="168.9" cy="183.7" r="2.75" fill="url(#gr)"/>
<circle cx="171.1" cy="183.3" r="2.75" fill="url(#gr)"/>
<circle cx="187.6" cy="183.7" r="2.75" fill="url(#gr)"/>
<circle cx="171.1" cy="189.5" r="2.75" fill="url(#gr)"/>
<circle cx="165.3" cy="191.3" r="2.75" fill="url(#gr)"/>
<circle cx="150.9" cy="196.0" r="2.75" fill="url(#gr)"/>
<circle cx="162.4" cy="196.0" r="2.75" fill="url(#gr)"/>
<circle cx="208.6" cy="193.8" r="2.75" fill="url(#gr)"/>
<circle cx="160.2" cy="201.7" r="2.75" fill="url(#gr)"/>
<circle cx="169.6" cy="204.3" r="2.75" fill="url(#gr)"/>
<circle cx="194.1" cy="208.2" r="2.75" fill="url(#gr)"/>
<circle cx="205.7" cy="206.8" r="2.75" fill="url(#gr)"/>
<circle cx="208.6" cy="209.7" r="2.75" fill="url(#gr)"/>
<circle cx="205.0" cy="213.3" r="2.75" fill="url(#gr)"/>
<circle cx="140.8" cy="216.2" r="2.75" fill="url(#gr)"/>
<circle cx="166.0" cy="214.4" r="2.75" fill="url(#gr)"/>
<circle cx="173.2" cy="221.2" r="2.75" fill="url(#gr)"/>
<circle cx="186.2" cy="223.7" r="2.75" fill="url(#gr)"/>
<circle cx="203.5" cy="222.2" r="2.75" fill="url(#gr)"/>
<circle cx="158.8" cy="230.3" r="2.75" fill="url(#gr)"/>
<circle cx="179.0" cy="232.0" r="2.75" fill="url(#gr)"/>
<circle cx="181.2" cy="235.6" r="2.75" fill="url(#gr)"/>
<circle cx="186.9" cy="231.3" r="2.75" fill="url(#gr)"/>
<circle cx="151.6" cy="236.1" r="2.75" fill="url(#gr)"/>
<circle cx="160.2" cy="237.8" r="2.75" fill="url(#gr)"/>
<circle cx="177.5" cy="240.0" r="2.75" fill="url(#gr)"/>
<circle cx="201.3" cy="234.9" r="2.75" fill="url(#gr)"/>
<circle cx="218.0" cy="172.2" r="2.75" fill="url(#gr)"/>
<circle cx="223.8" cy="170.0" r="2.75" fill="url(#gr)"/>
<circle cx="253.3" cy="170.8" r="2.75" fill="url(#gr)"/>
<circle cx="222.3" cy="179.4" r="2.75" fill="url(#gr)"/>
<circle cx="219.4" cy="182.3" r="2.75" fill="url(#gr)"/>
<circle cx="235.3" cy="184.0" r="2.75" fill="url(#gr)"/>
<circle cx="259.8" cy="190.7" r="2.75" fill="url(#gr)"/>
<circle cx="274.2" cy="193.1" r="2.75" fill="url(#gr)"/>
<circle cx="218.0" cy="191.3" r="2.75" fill="url(#gr)"/>
<circle cx="218.0" cy="202.5" r="2.75" fill="url(#gr)"/>
<circle cx="273.5" cy="212.3" r="2.75" fill="url(#gr)"/>
<circle cx="229.5" cy="225.6" r="2.75" fill="url(#gr)"/>
<circle cx="218.0" cy="232.1" r="2.75" fill="url(#gr)"/>
<circle cx="286.6" cy="214.8" r="2.75" fill="url(#gr)"/>
<circle cx="178.1" cy="250.4" r="2.75" fill="url(#gr)"/>
<circle cx="212.3" cy="246.2" r="2.75" fill="url(#gr)"/>
<circle cx="217.5" cy="251.9" r="2.75" fill="url(#gr)"/>
<circle cx="223.3" cy="250.0" r="2.75" fill="url(#gr)"/>
<circle cx="228.0" cy="245.2" r="2.75" fill="url(#gr)"/>
<circle cx="211.7" cy="263.1" r="2.75" fill="url(#gr)"/>
<circle cx="233.1" cy="243.8" r="2.75" fill="url(#gr)"/>
<circle cx="247.1" cy="254.8" r="2.75" fill="url(#gr)"/>
<circle cx="207.0" cy="97.5" r="6.8" fill="url(#gg)"/>
<circle cx="202.0" cy="114.6" r="8.1" fill="url(#gg)"/>
<circle cx="208.5" cy="144.8" r="6.6" fill="url(#gg)"/>
<circle cx="228.7" cy="126.0" r="6.6" fill="url(#gg)"/>
<circle cx="234.0" cy="133.0" r="6.8" fill="url(#gg)"/>
<circle cx="212.3" cy="104.4" r="7.5" fill="url(#gg)"/>
<circle cx="225.9" cy="108.7" r="6.8" fill="url(#gg)"/>
<circle cx="231.7" cy="118.8" r="6.8" fill="url(#gg)"/>
<circle cx="233.8" cy="126.0" r="7.3" fill="url(#gg)"/>
<circle cx="245.4" cy="123.8" r="6.3" fill="url(#gg)"/>
<circle cx="252.6" cy="113.0" r="6.3" fill="url(#gg)"/>
<circle cx="259.8" cy="120.2" r="6.3" fill="url(#gg)"/>
<circle cx="264.9" cy="116.6" r="6.3" fill="url(#gg)"/>
<circle cx="248.3" cy="131.8" r="6.3" fill="url(#gg)"/>
<circle cx="264.1" cy="130.3" r="6.3" fill="url(#gg)"/>
<circle cx="274.2" cy="130.3" r="5.3" fill="url(#gg)"/>
<circle cx="233.8" cy="141.2" r="7.3" fill="url(#gg)"/>
<circle cx="225.2" cy="147.6" r="6.8" fill="url(#gg)"/>
<circle cx="236.0" cy="153.4" r="6.8" fill="url(#gg)"/>
<circle cx="249.7" cy="153.4" r="6.8" fill="url(#gg)"/>
<circle cx="262.7" cy="156.3" r="5.8" fill="url(#gg)"/>
<circle cx="210.8" cy="144.8" r="6.3" fill="url(#gg)"/>
<circle cx="255.5" cy="179.4" r="6.8" fill="url(#gg)"/>
<circle cx="235.3" cy="207.5" r="6.8" fill="url(#gg)"/>
<circle cx="209.0" cy="227.7" r="6.8" fill="url(#gg)"/>
<circle cx="205.2" cy="100.0" r="2.75" fill="url(#gr)"/>
<circle cx="207.1" cy="143.3" r="2.75" fill="url(#gr)"/>
<circle cx="249.0" cy="153.4" r="2.75" fill="url(#gr)"/>
<circle cx="250.4" cy="117.4" r="2.75" fill="url(#gr)"/>
<circle cx="241.8" cy="108.7" r="2.75" fill="url(#gr)"/>
<circle cx="221.6" cy="136.1" r="2.75" fill="url(#gr)"/>
<circle cx="227.4" cy="136.1" r="2.75" fill="url(#gr)"/>
<circle cx="213.7" cy="144.0" r="2.75" fill="url(#gr)"/>
<circle cx="248.2" cy="101.7" r="2.8" fill="url(#gb)"/>
<circle cx="266.5" cy="98.5" r="2.8" fill="url(#gb)"/>
<circle cx="274.9" cy="102.8" r="2.8" fill="url(#gb)"/>
<circle cx="296.6" cy="102.1" r="2.8" fill="url(#gb)"/>
<circle cx="196.3" cy="130.3" r="2.8" fill="url(#gb)"/>
<circle cx="248.3" cy="101.5" r="2.8" fill="url(#gb)"/>
<circle cx="246.1" cy="110.9" r="2.8" fill="url(#gb)"/>
<circle cx="269.2" cy="108.7" r="2.8" fill="url(#gb)"/>
<circle cx="271.3" cy="111.6" r="2.8" fill="url(#gb)"/>
<circle cx="275.7" cy="117.4" r="2.8" fill="url(#gb)"/>
<circle cx="277.1" cy="120.2" r="2.8" fill="url(#gb)"/>
<circle cx="272.8" cy="120.2" r="2.8" fill="url(#gb)"/>
<circle cx="246.1" cy="126.0" r="2.8" fill="url(#gb)"/>
<circle cx="243.2" cy="137.5" r="2.8" fill="url(#gb)"/>
<circle cx="251.9" cy="137.5" r="2.8" fill="url(#gb)"/>
<circle cx="256.9" cy="144.8" r="2.8" fill="url(#gb)"/>
<circle cx="263.4" cy="141.9" r="2.8" fill="url(#gb)"/>
<circle cx="264.1" cy="144.0" r="2.8" fill="url(#gb)"/>
<circle cx="268.5" cy="139.0" r="2.8" fill="url(#gb)"/>
<circle cx="272.8" cy="138.3" r="2.8" fill="url(#gb)"/>
<circle cx="246.1" cy="145.5" r="2.8" fill="url(#gb)"/>
<circle cx="272.8" cy="148.4" r="2.8" fill="url(#gb)"/>
<circle cx="262.7" cy="155.6" r="2.8" fill="url(#gb)"/>
<circle cx="271.3" cy="160.6" r="2.8" fill="url(#gb)"/>
<circle cx="228.8" cy="159.2" r="2.8" fill="url(#gb)"/>
<circle cx="238.9" cy="165.0" r="2.8" fill="url(#gb)"/>
<circle cx="243.9" cy="166.4" r="2.8" fill="url(#gb)"/>
<circle cx="265.6" cy="164.2" r="2.8" fill="url(#gb)"/>
<circle cx="277.1" cy="162.8" r="2.8" fill="url(#gb)"/>
<circle cx="304.6" cy="107.3" r="2.8" fill="url(#gb)"/>
<circle cx="298.1" cy="110.1" r="2.8" fill="url(#gb)"/>
<circle cx="294.5" cy="112.3" r="2.8" fill="url(#gb)"/>
<circle cx="285.1" cy="113.8" r="2.8" fill="url(#gb)"/>
<circle cx="276.5" cy="116.6" r="2.8" fill="url(#gb)"/>
<circle cx="275.0" cy="120.2" r="2.8" fill="url(#gb)"/>
<circle cx="277.9" cy="118.8" r="2.8" fill="url(#gb)"/>
<circle cx="283.7" cy="120.2" r="2.8" fill="url(#gb)"/>
<circle cx="285.9" cy="121.7" r="2.8" fill="url(#gb)"/>
<circle cx="293.1" cy="119.5" r="2.8" fill="url(#gb)"/>
<circle cx="294.5" cy="118.1" r="2.8" fill="url(#gb)"/>
<circle cx="298.1" cy="122.4" r="2.8" fill="url(#gb)"/>
<circle cx="318.3" cy="121.7" r="2.8" fill="url(#gb)"/>
<circle cx="279.4" cy="126.0" r="2.8" fill="url(#gb)"/>
<circle cx="280.1" cy="128.9" r="2.8" fill="url(#gb)"/>
<circle cx="303.2" cy="126.0" r="2.8" fill="url(#gb)"/>
<circle cx="305.3" cy="128.2" r="2.8" fill="url(#gb)"/>
<circle cx="287.3" cy="133.2" r="2.8" fill="url(#gb)"/>
<circle cx="293.1" cy="133.9" r="2.8" fill="url(#gb)"/>
<circle cx="298.1" cy="136.8" r="2.8" fill="url(#gb)"/>
<circle cx="301.0" cy="137.5" r="2.8" fill="url(#gb)"/>
<circle cx="308.9" cy="135.4" r="2.8" fill="url(#gb)"/>
<circle cx="304.6" cy="141.2" r="2.8" fill="url(#gb)"/>
<circle cx="311.1" cy="140.4" r="2.8" fill="url(#gb)"/>
<circle cx="272.9" cy="137.5" r="2.8" fill="url(#gb)"/>
<circle cx="275.0" cy="139.0" r="2.8" fill="url(#gb)"/>
<circle cx="280.8" cy="134.7" r="2.8" fill="url(#gb)"/>
<circle cx="294.5" cy="140.4" r="2.8" fill="url(#gb)"/>
<circle cx="285.9" cy="144.0" r="2.8" fill="url(#gb)"/>
<circle cx="288.8" cy="145.5" r="2.8" fill="url(#gb)"/>
<circle cx="290.2" cy="146.9" r="2.8" fill="url(#gb)"/>
<circle cx="282.3" cy="148.4" r="2.8" fill="url(#gb)"/>
<circle cx="284.4" cy="149.1" r="2.8" fill="url(#gb)"/>
<circle cx="298.1" cy="146.9" r="2.8" fill="url(#gb)"/>
<circle cx="298.8" cy="144.8" r="2.8" fill="url(#gb)"/>
<circle cx="308.2" cy="146.9" r="2.8" fill="url(#gb)"/>
<circle cx="310.4" cy="149.1" r="2.8" fill="url(#gb)"/>
<circle cx="314.0" cy="144.8" r="2.8" fill="url(#gb)"/>
<circle cx="272.9" cy="147.6" r="2.8" fill="url(#gb)"/>
<circle cx="288.0" cy="150.5" r="2.8" fill="url(#gb)"/>
<circle cx="296.7" cy="158.5" r="2.8" fill="url(#gb)"/>
<circle cx="299.6" cy="157.0" r="2.8" fill="url(#gb)"/>
<circle cx="321.2" cy="157.7" r="2.8" fill="url(#gb)"/>
<circle cx="280.1" cy="161.3" r="2.8" fill="url(#gb)"/>
<circle cx="284.4" cy="161.3" r="2.8" fill="url(#gb)"/>
<circle cx="287.3" cy="165.7" r="2.8" fill="url(#gb)"/>
<circle cx="288.8" cy="168.6" r="2.8" fill="url(#gb)"/>
<circle cx="307.5" cy="149.8" r="2.8" fill="url(#gb)"/>
<circle cx="238.2" cy="165.7" r="2.8" fill="url(#gb)"/>
<circle cx="243.2" cy="167.2" r="2.8" fill="url(#gb)"/>
<circle cx="243.2" cy="170.8" r="2.8" fill="url(#gb)"/>
<circle cx="264.1" cy="175.8" r="2.8" fill="url(#gb)"/>
<circle cx="286.6" cy="165.8" r="2.8" fill="url(#gb)"/>
<circle cx="288.8" cy="170.1" r="2.8" fill="url(#gb)"/>
<circle cx="296.7" cy="175.1" r="2.8" fill="url(#gb)"/>
<circle cx="292.4" cy="179.5" r="2.8" fill="url(#gb)"/>
<circle cx="302.5" cy="185.2" r="2.8" fill="url(#gb)"/>
<circle cx="285.1" cy="190.7" r="2.8" fill="url(#gb)"/>
<circle cx="253.3" cy="124.6" r="2.8" fill="url(#gy)"/>
<circle cx="267.7" cy="129.6" r="2.8" fill="url(#gy)"/>
<circle cx="273.5" cy="108.0" r="2.8" fill="url(#gy)"/>
<circle cx="260.5" cy="137.5" r="2.8" fill="url(#gy)"/>
<circle cx="273.5" cy="141.9" r="2.8" fill="url(#gy)"/>
<circle cx="270.6" cy="145.5" r="2.8" fill="url(#gy)"/>
<circle cx="269.2" cy="150.5" r="2.8" fill="url(#gy)"/>
<circle cx="245.4" cy="152.7" r="2.8" fill="url(#gy)"/>
<circle cx="269.9" cy="154.9" r="2.8" fill="url(#gy)"/>
<circle cx="277.1" cy="157.0" r="2.8" fill="url(#gy)"/>
<circle cx="258.4" cy="156.3" r="2.8" fill="url(#gy)"/>
<circle cx="288.8" cy="117.4" r="2.8" fill="url(#gy)"/>
<circle cx="303.2" cy="114.5" r="2.8" fill="url(#gy)"/>
<circle cx="307.5" cy="116.6" r="2.8" fill="url(#gy)"/>
<circle cx="304.6" cy="121.7" r="2.8" fill="url(#gy)"/>
<circle cx="308.9" cy="123.8" r="2.8" fill="url(#gy)"/>
<circle cx="311.8" cy="121.7" r="2.8" fill="url(#gy)"/>
<circle cx="285.9" cy="126.7" r="2.8" fill="url(#gy)"/>
<circle cx="288.8" cy="128.2" r="2.8" fill="url(#gy)"/>
<circle cx="298.1" cy="128.9" r="2.8" fill="url(#gy)"/>
<circle cx="300.3" cy="130.3" r="2.8" fill="url(#gy)"/>
<circle cx="313.3" cy="131.8" r="2.8" fill="url(#gy)"/>
<circle cx="281.5" cy="139.0" r="2.8" fill="url(#gy)"/>
<circle cx="285.9" cy="138.3" r="2.8" fill="url(#gy)"/>
<circle cx="308.2" cy="140.4" r="2.8" fill="url(#gy)"/>
<circle cx="318.3" cy="140.4" r="2.8" fill="url(#gy)"/>
<circle cx="273.6" cy="141.9" r="2.8" fill="url(#gy)"/>
<circle cx="280.1" cy="145.5" r="2.8" fill="url(#gy)"/>
<circle cx="274.3" cy="151.3" r="2.8" fill="url(#gy)"/>
<circle cx="284.4" cy="153.4" r="2.8" fill="url(#gy)"/>
<circle cx="277.2" cy="157.0" r="2.8" fill="url(#gy)"/>
<circle cx="278.7" cy="158.5" r="2.8" fill="url(#gy)"/>
<circle cx="319.0" cy="152.0" r="2.8" fill="url(#gy)"/>
<circle cx="324.1" cy="161.3" r="2.8" fill="url(#gy)"/>
<circle cx="292.4" cy="143.3" r="2.8" fill="url(#gy)"/>
<circle cx="373" cy="63" r="4.6" fill="url(#lgr)"/>
<text x="382" y="66.7" font-size="10.1" fill="#111">AML</text>
<circle cx="373" cy="81.2" r="4.6" fill="url(#lgb)"/>
<text x="382" y="84.9" font-size="10.1" fill="#111">MDS</text>
<circle cx="373" cy="98.3" r="4.6" fill="url(#lgg)"/>
<text x="382" y="102.0" font-size="10.1" fill="#111">MDS, called as AML</text>
<circle cx="373" cy="115.8" r="4.6" fill="url(#lgy)"/>
<text x="382" y="119.5" font-size="10.1" fill="#111">"none-of-the-targets"</text>
<text x="0.8" y="317.9" font-size="11" font-weight="bold" fill="#111">B</text>
<text x="35.4" y="332.6" font-size="6.1" font-weight="bold" fill="#222">Class</text>
<path d="M35.4 333.8h16.1" stroke="#222" stroke-width="0.7"/>
<rect x="35.7" y="336.6" width="6" height="5.8" fill="#f01010"/>
<text x="45.8" y="341.6" font-size="6.1" font-weight="bold" fill="#222">AML</text>
<rect x="35.7" y="345.8" width="6" height="5.8" fill="#1010f0"/>
<text x="45.8" y="350.8" font-size="6.1" font-weight="bold" fill="#222">MDS</text>
<rect x="35.7" y="355.7" width="6" height="5.8" fill="#f8f810"/>
<text x="45.8" y="360.7" font-size="6.1" font-weight="bold" fill="#222">"none-of-the-targets"</text>
<path d="M41.2 351.5V355.2M42.5 351.2L46 350.6" stroke="#777" stroke-width="0.5" fill="none"/><path d="M44.3 354.3L46.6 357" stroke="#733" stroke-width="0.8" fill="none"/>
<text x="35.4" y="376.0" font-size="6.1" font-weight="bold" fill="#222">Center</text>
<path d="M35.4 377.2h19.5" stroke="#222" stroke-width="0.7"/>
<rect x="35.7" y="380.3" width="6" height="5.8" fill="#2e9a6a"/>
<text x="45.8" y="385.3" font-size="6.1" font-weight="bold" fill="#222">Berlin</text>
<rect x="35.7" y="389.3" width="6" height="5.8" fill="#f7a020"/>
<text x="45.8" y="394.3" font-size="6.1" font-weight="bold" fill="#222">Cardiff</text>
<rect x="35.7" y="398.8" width="6" height="5.8" fill="#8a3a7a"/>
<text x="45.8" y="403.8" font-size="6.1" font-weight="bold" fill="#222">Munich</text>
<rect x="35.7" y="408.5" width="6" height="5.8" fill="#30f0f0"/>
<text x="45.8" y="413.5" font-size="6.1" font-weight="bold" fill="#222">Salamanca</text>
<path d="M41.2 395V398.8M42.5 394.8L46 394.2" stroke="#777" stroke-width="0.5" fill="none"/><path d="M44.3 399.4L46.6 402" stroke="#a33" stroke-width="0.8" fill="none"/>
<text x="35.4" y="431.4" font-size="6.1" font-weight="bold" fill="#222">Classification</text>
<path d="M35.4 432.59999999999997h39.6" stroke="#222" stroke-width="0.7"/>
<rect x="35.7" y="435" width="6" height="5.8" fill="#f01010"/>
<text x="45.8" y="440.0" font-size="6.1" font-weight="bold" fill="#222">MDS, called AML</text>
<rect x="35.7" y="444.7" width="6" height="5.8" fill="#1010f0"/>
<text x="45.8" y="449.7" font-size="6.1" font-weight="bold" fill="#222">MDS, called MDS</text>
<rect x="35.7" y="454" width="6" height="5.8" fill="#f8f810"/>
<text x="45.8" y="459.0" font-size="6.1" font-weight="bold" fill="#222">MDS, called "none-of-the-targets"</text>
<path d="M41.2 450.4V454.1M42.5 450.2L46 449.6" stroke="#777" stroke-width="0.5" fill="none"/><path d="M44.3 454.5L46.6 457" stroke="#733" stroke-width="0.8" fill="none"/>
<path d="M240.4 329.6H424.6 M240.4 329.6V469.4 M424.6 329.6V485.4 M157.8 469.4H323.0 M157.8 469.4V503.7 M323.0 469.4V514.2 M113.5 503.7H202.0 M113.5 503.7V508.8 M202.0 503.7V520.4 M92.7 508.8H133.5 M295.2 514.2H352.0 M295.2 514.2V518.0 M352.0 514.2V517.0 M272.0 518.0H317.3 M389.6 485.4H460.4 M389.6 485.4V522.3 M460.4 485.4V501.2 M441.5 501.2H478.7 M441.5 501.2V517.1 M478.7 501.2V513.3 M464.6 513.3H493.0 M92.7 508.8V521.3 M82.7 521.3H103.3 M82.7 521.3V523.5 M68.5 523.5H80.7 M68.5 523.5V525.3 M64.3 525.3H70.5 M64.3 525.3V526.0 M63.4 526.0H65.8 M63.4 526.0V526.9 M63.1 526.9H64.3 M63.1 526.9V527.5 M63.1 527.5V529.6 M64.3 526.9V527.7 M64.3 527.7V529.6 M65.8 526.0V527.0 M65.6 527.0H66.5 M65.6 527.0V527.7 M65.6 527.7V529.6 M66.5 527.0V527.5 M66.5 527.5V529.6 M70.5 525.3V526.1 M68.3 526.1H71.9 M68.3 526.1V526.7 M68.0 526.7H69.0 M68.0 526.7V527.4 M68.0 527.4V529.6 M69.0 526.7V527.2 M69.0 527.2V529.6 M71.9 526.1V526.7 M70.4 526.7H72.2 M70.4 526.7V527.2 M70.4 527.2V529.6 M72.2 526.7V527.4 M71.6 527.4H73.0 M71.6 527.4V527.9 M71.6 527.9V529.6 M73.0 527.4V527.9 M73.0 527.9V529.6 M80.7 523.5V525.4 M79.6 525.4H88.9 M79.6 525.4V526.3 M76.1 526.3H81.8 M76.1 526.3V527.3 M74.7 527.3H77.6 M74.7 527.3V527.8 M74.3 527.8H75.6 M74.3 527.8V528.3 M74.3 528.3V529.6 M75.6 527.8V528.3 M75.6 528.3V529.6 M77.6 527.3V527.8 M77.1 527.8H79.6 M77.1 527.8V528.3 M76.6 528.3H77.6 M76.6 528.3V528.8 M76.6 528.8V529.6 M77.6 528.3V528.8 M77.6 528.8V529.6 M79.6 527.8V528.3 M78.9 528.3H80.0 M78.9 528.3V528.8 M78.9 528.8V529.6 M80.0 528.3V528.8 M80.0 528.8V529.6 M81.8 526.3V527.1 M80.8 527.1H82.2 M80.8 527.1V527.7 M80.8 527.7V529.6 M82.2 527.1V527.6 M81.9 527.6H83.0 M81.9 527.6V528.1 M81.9 528.1V529.6 M83.0 527.6V528.1 M83.0 528.1V529.6 M88.9 525.4V526.6 M87.2 526.6H91.7 M87.2 526.6V527.1 M84.8 527.1H88.4 M84.8 527.1V527.8 M83.9 527.8H85.3 M83.9 527.8V528.3 M83.9 528.3V529.6 M85.3 527.8V528.3 M84.9 528.3H85.8 M84.9 528.3V528.8 M84.9 528.8V529.6 M85.8 528.3V528.8 M85.8 528.8V529.6 M88.4 527.1V527.7 M87.6 527.7H89.2 M87.6 527.7V528.2 M86.8 528.2H88.3 M86.8 528.2V528.7 M86.8 528.7V529.6 M88.3 528.2V528.7 M88.3 528.7V529.6 M89.2 527.7V528.2 M89.2 528.2V529.6 M91.7 526.6V527.2 M90.3 527.2H92.2 M90.3 527.2V527.7 M90.3 527.7V529.6 M92.2 527.2V527.7 M91.5 527.7H92.4 M91.5 527.7V528.2 M91.5 528.2V529.6 M92.4 527.7V528.2 M92.4 528.2V529.6 M103.3 521.3V523.1 M97.4 523.1H109.1 M97.4 523.1V525.6 M95.1 525.6H100.0 M95.1 525.6V526.5 M93.9 526.5H97.1 M93.9 526.5V527.6 M93.6 527.6H94.6 M93.6 527.6V528.1 M93.6 528.1V529.6 M94.6 527.6V528.1 M94.6 528.1V529.6 M97.1 526.5V527.1 M96.0 527.1H97.5 M96.0 527.1V527.8 M95.7 527.8H96.7 M95.7 527.8V528.3 M95.7 528.3V529.6 M96.7 527.8V528.3 M96.7 528.3V529.6 M97.5 527.1V527.8 M97.5 527.8V529.6 M100.0 525.6V527.0 M99.3 527.0H101.6 M99.3 527.0V527.5 M99.0 527.5H100.3 M99.0 527.5V528.0 M99.0 528.0V529.6 M100.3 527.5V528.0 M100.3 528.0V529.6 M101.6 527.0V527.7 M101.5 527.7H102.3 M101.5 527.7V528.2 M101.5 528.2V529.6 M102.3 527.7V528.2 M102.3 528.2V529.6 M109.1 523.1V524.6 M106.8 524.6H115.2 M106.8 524.6V525.4 M104.2 525.4H109.5 M104.2 525.4V527.0 M103.7 527.0H105.7 M103.7 527.0V527.8 M102.9 527.8H103.8 M102.9 527.8V528.3 M102.9 528.3V529.6 M103.8 527.8V528.3 M103.8 528.3V529.6 M105.7 527.0V527.6 M105.2 527.6H106.0 M105.2 527.6V528.1 M105.2 528.1V529.6 M106.0 527.6V528.1 M106.0 528.1V529.6 M109.5 525.4V526.1 M108.3 526.1H110.9 M108.3 526.1V527.2 M107.0 527.2H108.8 M107.0 527.2V527.7 M107.0 527.7V529.6 M108.8 527.2V527.8 M108.8 527.8V529.6 M110.9 526.1V527.3 M110.0 527.3H111.4 M110.0 527.3V527.9 M110.0 527.9V529.6 M111.4 527.3V527.8 M111.4 527.8V529.6 M115.2 524.6V525.5 M113.9 525.5H118.6 M113.9 525.5V526.3 M113.2 526.3H114.6 M113.2 526.3V527.0 M112.3 527.0H113.3 M112.3 527.0V527.8 M112.3 527.8V529.6 M113.3 527.0V527.6 M113.3 527.6V529.6 M114.6 526.3V527.1 M114.6 527.1V529.6 M118.6 525.5V527.0 M116.9 527.0H119.8 M116.9 527.0V527.5 M115.7 527.5H117.0 M115.7 527.5V528.0 M115.7 528.0V529.6 M117.0 527.5V528.0 M116.6 528.0H117.6 M116.6 528.0V528.5 M116.6 528.5V529.6 M117.6 528.0V528.5 M117.6 528.5V529.6 M119.8 527.0V527.6 M118.9 527.6H120.6 M118.9 527.6V528.1 M118.5 528.1H119.3 M118.5 528.1V528.6 M118.5 528.6V529.6 M119.3 528.1V528.6 M119.3 528.6V529.6 M120.6 527.6V528.1 M120.6 528.1V529.6 M133.5 508.8V522.9 M123.5 522.9H143.6 M123.5 522.9V525.4 M123.3 525.4H130.1 M123.3 525.4V526.6 M122.0 526.6H124.4 M122.0 526.6V527.5 M121.4 527.5H122.2 M121.4 527.5V528.0 M121.4 528.0V529.6 M122.2 527.5V528.0 M122.2 528.0V529.6 M124.4 526.6V527.3 M123.8 527.3H125.2 M123.8 527.3V527.8 M123.8 527.8V529.6 M125.2 527.3V527.8 M125.2 527.8V529.6 M130.1 525.4V526.5 M127.9 526.5H131.5 M127.9 526.5V527.3 M126.9 527.3H128.7 M126.9 527.3V527.9 M126.2 527.9H127.3 M126.2 527.9V528.4 M126.2 528.4V529.6 M127.3 527.9V528.4 M127.3 528.4V529.6 M128.7 527.3V527.8 M127.9 527.8H128.8 M127.9 527.8V528.3 M127.9 528.3V529.6 M128.8 527.8V528.3 M128.8 528.3V529.6 M131.5 526.5V527.4 M131.1 527.4H132.6 M131.1 527.4V527.9 M130.2 527.9H131.6 M130.2 527.9V528.4 M130.2 528.4V529.6 M131.6 527.9V528.4 M131.6 528.4V529.6 M132.6 527.4V528.0 M132.6 528.0V529.6 M143.6 522.9V524.7 M138.8 524.7H146.7 M138.8 524.7V525.7 M135.5 525.7H139.3 M135.5 525.7V526.4 M134.5 526.4H136.0 M134.5 526.4V527.2 M133.8 527.2H134.7 M133.8 527.2V527.8 M133.8 527.8V529.6 M134.7 527.2V527.7 M134.7 527.7V529.6 M136.0 526.4V526.9 M136.1 526.9H137.2 M136.1 526.9V527.4 M136.1 527.4V529.6 M137.2 526.9V527.4 M137.2 527.4V529.6 M139.3 525.7V526.3 M138.5 526.3H140.7 M138.5 526.3V527.1 M138.4 527.1H139.5 M138.4 527.1V527.6 M138.0 527.6H138.9 M138.0 527.6V528.1 M138.0 528.1V529.6 M138.9 527.6V528.1 M138.9 528.1V529.6 M139.5 527.1V527.7 M139.5 527.7V529.6 M140.7 526.3V527.1 M140.4 527.1H141.2 M140.4 527.1V527.7 M140.4 527.7V529.6 M141.2 527.1V527.6 M141.2 527.6V529.6 M146.7 524.7V526.5 M143.3 526.5H147.1 M143.3 526.5V527.1 M142.6 527.1H143.7 M142.6 527.1V527.6 M142.6 527.6V529.6 M143.7 527.1V527.7 M143.7 527.7V529.6 M147.1 526.5V527.1 M145.2 527.1H147.7 M145.2 527.1V527.6 M144.8 527.6H145.9 M144.8 527.6V528.1 M144.8 528.1V529.6 M145.9 527.6V528.1 M145.9 528.1V529.6 M147.7 527.1V527.6 M146.9 527.6H148.8 M146.9 527.6V528.1 M146.8 528.1H147.6 M146.8 528.1V528.6 M146.8 528.6V529.6 M147.6 528.1V528.6 M147.6 528.6V529.6 M148.8 527.6V528.1 M148.6 528.1H149.6 M148.6 528.1V528.6 M148.6 528.6V529.6 M149.6 528.1V528.6 M149.6 528.6V529.6 M202.0 503.7V520.4 M183.8 520.4H220.4 M183.8 520.4V523.3 M169.3 523.3H190.0 M169.3 523.3V525.7 M159.4 525.7H173.4 M159.4 525.7V526.6 M152.2 526.6H160.0 M152.2 526.6V527.4 M150.9 527.4H153.5 M150.9 527.4V528.0 M150.8 528.0H151.8 M150.8 528.0V528.5 M150.8 528.5V529.6 M151.8 528.0V528.5 M151.8 528.5V529.6 M153.5 527.4V527.9 M152.8 527.9H154.4 M152.8 527.9V528.4 M152.8 528.4V529.6 M154.4 527.9V528.4 M154.4 528.4V529.6 M160.0 526.6V527.3 M158.6 527.3H163.5 M158.6 527.3V527.8 M156.3 527.8H158.7 M156.3 527.8V528.3 M156.3 528.3V529.6 M158.7 527.8V528.3 M157.6 528.3H159.4 M157.6 528.3V528.8 M157.6 528.8V529.6 M159.4 528.3V528.8 M159.4 528.8V529.6 M163.5 527.3V527.8 M161.3 527.8H164.6 M161.3 527.8V528.3 M161.0 528.3H162.0 M161.0 528.3V528.8 M161.0 528.8V529.6 M162.0 528.3V528.8 M162.0 528.8V529.6 M164.6 527.8V528.3 M163.9 528.3H165.8 M163.9 528.3V528.8 M163.9 528.8V529.6 M165.8 528.3V528.8 M165.8 528.8V529.6 M173.4 525.7V526.3 M172.4 526.3H177.8 M172.4 526.3V527.3 M169.4 527.3H173.9 M169.4 527.3V527.8 M169.3 527.8H171.7 M169.3 527.8V528.3 M168.6 528.3H170.1 M168.6 528.3V528.8 M168.6 528.8V529.6 M170.1 528.3V528.8 M170.1 528.8V529.6 M171.7 527.8V528.3 M170.9 528.3H172.0 M170.9 528.3V528.8 M170.9 528.8V529.6 M172.0 528.3V528.8 M172.0 528.8V529.6 M173.9 527.3V527.8 M173.3 527.8H174.6 M173.3 527.8V528.3 M172.9 528.3H173.8 M172.9 528.3V528.8 M172.9 528.8V529.6 M173.8 528.3V528.8 M173.8 528.8V529.6 M174.6 527.8V528.3 M174.6 528.3V529.6 M177.8 526.3V526.9 M176.0 526.9H178.6 M176.0 526.9V527.4 M176.0 527.4V529.6 M178.6 526.9V527.6 M178.0 527.6H179.5 M178.0 527.6V528.1 M177.6 528.1H178.6 M177.6 528.1V528.6 M177.6 528.6V529.6 M178.6 528.1V528.6 M178.6 528.6V529.6 M179.5 527.6V528.1 M179.5 528.1V529.6 M190.0 523.3V524.8 M185.8 524.8H197.8 M185.8 524.8V525.5 M181.8 525.5H189.2 M181.8 525.5V526.8 M181.0 526.8H183.3 M181.0 526.8V527.4 M180.4 527.4H181.9 M180.4 527.4V527.9 M180.4 527.9V529.6 M181.9 527.4V528.0 M181.9 528.0V529.6 M183.3 526.8V527.7 M182.7 527.7H183.7 M182.7 527.7V528.2 M182.7 528.2V529.6 M183.7 527.7V528.2 M183.7 528.2V529.6 M189.2 525.5V526.4 M186.4 526.4H190.0 M186.4 526.4V527.2 M184.9 527.2H186.9 M184.9 527.2V527.7 M184.9 527.7V529.6 M186.9 527.2V527.8 M186.2 527.8H187.2 M186.2 527.8V528.3 M186.2 528.3V529.6 M187.2 527.8V528.3 M187.2 528.3V529.6 M190.0 526.4V527.2 M188.3 527.2H191.3 M188.3 527.2V527.7 M188.0 527.7H188.8 M188.0 527.7V528.2 M188.0 528.2V529.6 M188.8 527.7V528.2 M188.8 528.2V529.6 M191.3 527.2V527.7 M190.8 527.7H192.3 M190.8 527.7V528.2 M190.2 528.2H191.1 M190.2 528.2V528.7 M190.2 528.7V529.6 M191.1 528.2V528.7 M191.1 528.7V529.6 M192.3 527.7V528.2 M192.3 528.2V529.6 M197.8 524.8V526.2 M195.1 526.2H199.3 M195.1 526.2V526.7 M194.0 526.7H195.7 M194.0 526.7V527.6 M194.0 527.6V529.6 M195.7 526.7V527.2 M195.1 527.2H196.2 M195.1 527.2V527.7 M195.1 527.7V529.6 M196.2 527.2V527.9 M196.2 527.9V529.6 M199.3 526.2V527.3 M198.8 527.3H201.4 M198.8 527.3V527.9 M198.1 527.9H199.3 M198.1 527.9V528.4 M198.1 528.4V529.6 M199.3 527.9V528.4 M199.3 528.4V529.6 M201.4 527.3V527.9 M200.7 527.9H201.6 M200.7 527.9V528.4 M200.7 528.4V529.6 M201.6 527.9V528.4 M201.6 528.4V529.6 M220.4 520.4V523.2 M211.7 523.2H240.0 M211.7 523.2V525.9 M206.9 525.9H216.6 M206.9 525.9V526.9 M203.7 526.9H208.0 M203.7 526.9V527.4 M203.4 527.4H205.3 M203.4 527.4V527.9 M203.0 527.9H204.3 M203.0 527.9V528.4 M203.0 528.4V529.6 M204.3 527.9V528.4 M204.3 528.4V529.6 M205.3 527.4V527.9 M205.3 527.9V529.6 M208.0 526.9V527.4 M206.9 527.4H209.5 M206.9 527.4V527.9 M206.7 527.9H207.6 M206.7 527.9V528.4 M206.7 528.4V529.6 M207.6 527.9V528.4 M207.6 528.4V529.6 M209.5 527.4V527.9 M208.4 527.9H210.2 M208.4 527.9V528.4 M208.4 528.4V529.6 M210.2 527.9V528.4 M209.6 528.4H210.4 M209.6 528.4V528.9 M209.6 528.9V529.6 M210.4 528.4V528.9 M210.4 528.9V529.6 M216.6 525.9V526.7 M214.9 526.7H221.2 M214.9 526.7V527.6 M211.6 527.6H215.3 M211.6 527.6V528.1 M211.4 528.1H212.2 M211.4 528.1V528.6 M211.4 528.6V529.6 M212.2 528.1V528.6 M212.2 528.6V529.6 M215.3 527.6V528.1 M214.6 528.1H216.3 M214.6 528.1V528.6 M214.6 528.6V529.6 M216.3 528.1V528.6 M216.3 528.6V529.6 M221.2 526.7V527.4 M219.6 527.4H222.7 M219.6 527.4V527.9 M218.3 527.9H220.3 M218.3 527.9V528.4 M218.3 528.4V529.6 M220.3 527.9V528.4 M220.3 528.4V529.6 M222.7 527.4V527.9 M222.1 527.9H223.4 M222.1 527.9V528.4 M222.1 528.4V529.6 M223.4 527.9V528.4 M223.4 528.4V529.6 M240.0 523.2V525.3 M230.2 525.3H244.6 M230.2 525.3V526.5 M228.0 526.5H235.8 M228.0 526.5V527.3 M225.1 527.3H229.5 M225.1 527.3V527.9 M224.8 527.9H226.0 M224.8 527.9V528.4 M224.8 528.4V529.6 M226.0 527.9V528.4 M226.0 528.4V529.6 M229.5 527.3V527.9 M228.1 527.9H231.0 M228.1 527.9V528.4 M228.1 528.4V529.6 M231.0 527.9V528.4 M231.0 528.4V529.6 M235.8 526.5V527.2 M234.3 527.2H238.5 M234.3 527.2V527.7 M233.0 527.7H234.6 M233.0 527.7V528.2 M233.0 528.2V529.6 M234.6 527.7V528.2 M234.3 528.2H235.3 M234.3 528.2V528.7 M234.3 528.7V529.6 M235.3 528.2V528.7 M235.3 528.7V529.6 M238.5 527.2V527.7 M236.9 527.7H239.2 M236.9 527.7V528.2 M236.4 528.2H237.7 M236.4 528.2V528.7 M236.4 528.7V529.6 M237.7 528.2V528.7 M237.7 528.7V529.6 M239.2 527.7V528.2 M239.1 528.2H239.8 M239.1 528.2V528.7 M239.1 528.7V529.6 M239.8 528.2V528.7 M239.8 528.7V529.6 M244.6 525.3V526.9 M241.7 526.9H247.2 M241.7 526.9V527.5 M241.9 527.5H243.8 M241.9 527.5V528.0 M241.0 528.0H242.4 M241.0 528.0V528.5 M241.0 528.5V529.6 M242.4 528.0V528.5 M242.4 528.5V529.6 M243.8 527.5V528.0 M243.8 528.0V529.6 M247.2 526.9V527.6 M246.0 527.6H249.7 M246.0 527.6V528.1 M244.9 528.1H246.5 M244.9 528.1V528.6 M244.9 528.6V529.6 M246.5 528.1V528.6 M246.5 528.6V529.6 M249.7 527.6V528.1 M248.6 528.1H251.0 M248.6 528.1V528.6 M248.6 528.6V529.6 M251.0 528.1V528.6 M251.0 528.6V529.6 M272.0 518.0V523.5 M259.6 523.5H282.4 M259.6 523.5V525.9 M254.7 525.9H263.7 M254.7 525.9V526.5 M253.6 526.5H256.5 M253.6 526.5V527.0 M252.3 527.0H254.0 M252.3 527.0V527.5 M252.3 527.5V529.6 M254.0 527.0V527.7 M253.4 527.7H254.3 M253.4 527.7V528.2 M253.4 528.2V529.6 M254.3 527.7V528.2 M254.3 528.2V529.6 M256.5 526.5V527.1 M255.5 527.1H257.1 M255.5 527.1V527.6 M255.4 527.6H256.2 M255.4 527.6V528.1 M255.4 528.1V529.6 M256.2 527.6V528.1 M256.2 528.1V529.6 M257.1 527.1V527.6 M257.1 527.6V529.6 M263.7 525.9V526.8 M261.9 526.8H265.7 M261.9 526.8V527.3 M259.3 527.3H263.0 M259.3 527.3V527.8 M258.9 527.8H260.4 M258.9 527.8V528.3 M258.3 528.3H259.2 M258.3 528.3V528.8 M258.3 528.8V529.6 M259.2 528.3V528.8 M259.2 528.8V529.6 M260.4 527.8V528.3 M260.4 528.3V529.6 M263.0 527.3V527.8 M261.7 527.8H263.4 M261.7 527.8V528.3 M261.4 528.3H262.6 M261.4 528.3V528.8 M261.4 528.8V529.6 M262.6 528.3V528.8 M262.6 528.8V529.6 M263.4 527.8V528.3 M263.4 528.3V529.6 M265.7 526.8V527.3 M264.8 527.3H266.5 M264.8 527.3V527.8 M264.8 527.8V529.6 M266.5 527.3V527.8 M265.8 527.8H266.9 M265.8 527.8V528.3 M265.8 528.3V529.6 M266.9 527.8V528.3 M266.9 528.3V529.6 M282.4 523.5V525.5 M274.2 525.5H288.0 M274.2 525.5V526.7 M270.3 526.7H275.0 M270.3 526.7V527.2 M268.2 527.2H271.3 M268.2 527.2V527.7 M267.8 527.7H269.0 M267.8 527.7V528.2 M267.8 528.2V529.6 M269.0 527.7V528.2 M269.0 528.2V529.6 M271.3 527.2V527.8 M270.5 527.8H271.6 M270.5 527.8V528.3 M270.0 528.3H270.9 M270.0 528.3V528.8 M270.0 528.8V529.6 M270.9 528.3V528.8 M270.9 528.8V529.6 M271.6 527.8V528.3 M271.6 528.3V529.6 M275.0 526.7V527.2 M274.7 527.2H278.0 M274.7 527.2V527.7 M273.8 527.7H275.9 M273.8 527.7V528.2 M273.2 528.2H274.8 M273.2 528.2V528.7 M273.2 528.7V529.6 M274.8 528.2V528.7 M274.8 528.7V529.6 M275.9 527.7V528.2 M275.9 528.2V529.6 M278.0 527.2V527.7 M277.1 527.7H278.2 M277.1 527.7V528.2 M277.1 528.2V529.6 M278.2 527.7V528.2 M278.2 528.2V529.6 M288.0 525.5V526.2 M283.8 526.2H292.8 M283.8 526.2V526.9 M280.8 526.9H285.1 M280.8 526.9V527.4 M279.3 527.4H281.1 M279.3 527.4V527.9 M279.3 527.9V529.6 M281.1 527.4V527.9 M280.4 527.9H281.4 M280.4 527.9V528.4 M280.4 528.4V529.6 M281.4 527.9V528.4 M281.4 528.4V529.6 M285.1 526.9V527.7 M283.5 527.7H286.1 M283.5 527.7V528.2 M283.2 528.2H284.2 M283.2 528.2V528.7 M283.2 528.7V529.6 M284.2 528.2V528.7 M284.2 528.7V529.6 M286.1 527.7V528.2 M285.2 528.2H286.7 M285.2 528.2V528.7 M285.2 528.7V529.6 M286.7 528.2V528.7 M286.7 528.7V529.6 M292.8 526.2V527.3 M290.2 527.3H296.0 M290.2 527.3V527.8 M289.9 527.8H292.1 M289.9 527.8V528.3 M288.6 528.3H290.1 M288.6 528.3V528.8 M288.6 528.8V529.6 M290.1 528.3V528.8 M290.1 528.8V529.6 M292.1 527.8V528.3 M291.6 528.3H293.1 M291.6 528.3V528.8 M291.6 528.8V529.6 M293.1 528.3V528.8 M293.1 528.8V529.6 M296.0 527.3V527.8 M296.5 527.8H299.0 M296.5 527.8V528.3 M295.1 528.3H297.5 M295.1 528.3V528.8 M295.1 528.8V529.6 M297.5 528.3V528.8 M297.5 528.8V529.6 M299.0 527.8V528.3 M298.5 528.3H299.6 M298.5 528.3V528.8 M298.5 528.8V529.6 M299.6 528.3V528.8 M299.6 528.8V529.6 M317.3 518.0V522.3 M306.2 522.3H326.7 M306.2 522.3V524.5 M302.6 524.5H310.2 M302.6 524.5V526.2 M301.6 526.2H305.7 M301.6 526.2V527.2 M300.8 527.2H302.6 M300.8 527.2V527.8 M300.8 527.8V529.6 M302.6 527.2V527.7 M302.1 527.7H303.7 M302.1 527.7V528.2 M301.8 528.2H302.6 M301.8 528.2V528.7 M301.8 528.7V529.6 M302.6 528.2V528.7 M302.6 528.7V529.6 M303.7 527.7V528.2 M303.7 528.2V529.6 M305.7 526.2V527.1 M305.0 527.1H306.2 M305.0 527.1V527.6 M305.0 527.6V529.6 M306.2 527.1V527.6 M306.2 527.6V529.6 M310.2 524.5V525.9 M307.9 525.9H312.1 M307.9 525.9V526.5 M307.4 526.5H308.6 M307.4 526.5V527.3 M307.4 527.3V529.6 M308.6 526.5V527.0 M308.6 527.0V529.6 M312.1 525.9V527.1 M311.2 527.1H313.6 M311.2 527.1V527.6 M310.5 527.6H311.7 M310.5 527.6V528.1 M310.5 528.1V529.6 M311.7 527.6V528.1 M311.7 528.1H312.4 M311.7 528.1V528.6 M311.7 528.6V529.6 M312.4 528.1V528.6 M312.4 528.6V529.6 M313.6 527.1V527.8 M313.4 527.8H314.6 M313.4 527.8V528.3 M313.4 528.3V529.6 M314.6 527.8V528.3 M314.6 528.3V529.6 M326.7 522.3V524.2 M320.9 524.2H336.2 M320.9 524.2V525.5 M318.6 525.5H327.2 M318.6 525.5V527.0 M316.5 527.0H321.5 M316.5 527.0V527.5 M315.4 527.5H317.1 M315.4 527.5V528.0 M315.4 528.0V529.6 M317.1 527.5V528.0 M316.7 528.0H318.2 M316.7 528.0V528.5 M316.7 528.5V529.6 M318.2 528.0V528.5 M318.2 528.5V529.6 M321.5 527.0V527.6 M320.1 527.6H322.8 M320.1 527.6V528.1 M319.2 528.1H320.8 M319.2 528.1V528.6 M319.2 528.6V529.6 M320.8 528.1V528.6 M320.8 528.6V529.6 M322.8 527.6V528.1 M322.0 528.1H323.5 M322.0 528.1V528.6 M322.0 528.6V529.6 M323.5 528.1V528.6 M323.5 528.6V529.6 M327.2 525.5V526.5 M325.6 526.5H327.8 M325.6 526.5V527.4 M324.8 527.4H326.0 M324.8 527.4V527.9 M324.8 527.9V529.6 M326.0 527.4V527.9 M326.0 527.9V529.6 M327.8 526.5V527.1 M326.9 527.1H328.5 M326.9 527.1V527.7 M326.9 527.7V529.6 M328.5 527.1V527.6 M328.3 527.6H329.3 M328.3 527.6V528.1 M328.3 528.1V529.6 M329.3 527.6V528.1 M329.3 528.1V529.6 M336.2 524.2V525.1 M331.4 525.1H335.7 M331.4 525.1V526.2 M330.6 526.2H332.2 M330.6 526.2V526.8 M330.6 526.8V529.6 M332.2 526.2V527.1 M331.6 527.1H332.7 M331.6 527.1V527.6 M331.6 527.6V529.6 M332.7 527.1V527.6 M332.7 527.6V529.6 M335.7 525.1V525.9 M335.4 525.9H338.7 M335.4 525.9V526.8 M333.6 526.8H335.9 M333.6 526.8V527.5 M333.6 527.5V529.6 M335.9 526.8V527.3 M335.2 527.3H336.5 M335.2 527.3V527.9 M335.2 527.9V529.6 M336.5 527.3V527.8 M336.5 527.8V529.6 M338.7 525.9V527.2 M337.4 527.2H338.9 M337.4 527.2V527.7 M337.4 527.7V529.6 M338.9 527.2V527.7 M338.3 527.7H339.6 M338.3 527.7V528.2 M338.3 528.2V529.6 M339.6 527.7V528.2 M339.6 528.2V529.6 M352.0 514.2V517.0 M344.0 517.0H359.0 M344.0 517.0V520.0 M343.1 520.0H349.1 M343.1 520.0V523.8 M341.0 523.8H344.0 M341.0 523.8V524.9 M340.9 524.9H342.0 M340.9 524.9V525.6 M340.9 525.6V529.6 M342.0 524.9V526.6 M342.0 526.6V529.6 M344.0 523.8V525.8 M343.4 525.8H345.2 M343.4 525.8V526.6 M342.6 526.6H343.4 M342.6 526.6V527.2 M342.6 527.2V529.6 M343.4 526.6V527.4 M343.4 527.4V529.6 M345.2 525.8V527.0 M345.0 527.0H345.8 M345.0 527.0V527.6 M345.0 527.6V529.6 M345.8 527.0V527.5 M345.8 527.5V529.6 M349.1 520.0V523.8 M347.4 523.8H350.3 M347.4 523.8V526.1 M346.9 526.1H347.9 M346.9 526.1V526.8 M346.9 526.8V529.6 M347.9 526.1V526.8 M347.9 526.8H348.6 M347.9 526.8V527.3 M347.9 527.3V529.6 M348.6 526.8V527.6 M348.6 527.6V529.6 M350.3 523.8V525.2 M349.6 525.2H350.8 M349.6 525.2V526.6 M349.6 526.6V529.6 M350.8 525.2V526.6 M350.8 526.6V529.6 M359.0 517.0V522.7 M356.3 522.7H364.3 M356.3 522.7V525.4 M353.7 525.4H357.5 M353.7 525.4V526.3 M352.3 526.3H353.8 M352.3 526.3V527.4 M352.3 527.4V529.6 M353.8 526.3V526.9 M353.2 526.9H354.7 M353.2 526.9V527.4 M353.2 527.4V529.6 M354.7 526.9V527.4 M353.9 527.4H354.8 M353.9 527.4V527.9 M353.9 527.9V529.6 M354.8 527.4V527.9 M354.8 527.9V529.6 M357.5 525.4V526.8 M356.0 526.8H358.0 M356.0 526.8V527.6 M356.0 527.6V529.6 M358.0 526.8V527.6 M357.4 527.6H359.2 M357.4 527.6V528.1 M357.2 528.1H358.2 M357.2 528.1V528.6 M357.2 528.6V529.6 M358.2 528.1V528.6 M358.2 528.6V529.6 M359.2 527.6V528.1 M359.2 528.1V529.6 M364.3 522.7V525.3 M362.3 525.3H366.3 M362.3 525.3V526.3 M360.2 526.3H362.9 M360.2 526.3V526.9 M360.2 526.9V529.6 M362.9 526.3V527.0 M361.7 527.0H363.3 M361.7 527.0V527.5 M361.7 527.5V529.6 M363.3 527.0V527.6 M362.9 527.6H363.9 M362.9 527.6V528.1 M362.9 528.1V529.6 M363.9 527.6V528.1 M363.9 528.1V529.6 M366.3 525.3V526.6 M364.8 526.6H366.7 M364.8 526.6V527.5 M364.8 527.5V529.6 M366.7 526.6V527.2 M366.2 527.2H367.4 M366.2 527.2V527.8 M366.2 527.8V529.6 M367.4 527.2V527.7 M367.4 527.7V529.6 M389.6 485.4V522.3 M377.5 522.3H406.3 M377.5 522.3V525.1 M371.1 525.1H383.0 M371.1 525.1V526.6 M370.1 526.6H375.4 M370.1 526.6V527.3 M369.5 527.3H372.9 M369.5 527.3V527.8 M369.0 527.8H371.3 M369.0 527.8V528.3 M368.5 528.3H369.6 M368.5 528.3V528.8 M368.5 528.8V529.6 M369.6 528.3V528.8 M369.6 528.8V529.6 M371.3 527.8V528.3 M371.3 528.3V529.6 M372.9 527.3V527.9 M372.5 527.9H373.6 M372.5 527.9V528.4 M372.5 528.4V529.6 M373.6 527.9V528.4 M373.6 528.4V529.6 M375.4 526.6V527.2 M374.8 527.2H376.4 M374.8 527.2V527.7 M374.4 527.7H375.4 M374.4 527.7V528.2 M374.4 528.2V529.6 M375.4 527.7V528.2 M375.4 528.2V529.6 M376.4 527.2V527.9 M376.4 527.9V529.6 M383.0 525.1V526.1 M380.5 526.1H388.6 M380.5 526.1V527.1 M378.7 527.1H382.3 M378.7 527.1V527.6 M378.2 527.6H380.3 M378.2 527.6V528.1 M377.5 528.1H378.8 M377.5 528.1V528.6 M377.5 528.6V529.6 M378.8 528.1V528.6 M378.8 528.6V529.6 M380.3 527.6V528.1 M380.3 528.1V529.6 M382.3 527.1V527.6 M381.4 527.6H383.2 M381.4 527.6V528.1 M381.4 528.1V529.6 M383.2 527.6V528.1 M382.4 528.1H383.4 M382.4 528.1V528.6 M382.4 528.6V529.6 M383.4 528.1V528.6 M383.4 528.6V529.6 M388.6 526.1V526.8 M386.0 526.8H389.8 M386.0 526.8V527.3 M384.9 527.3H386.5 M384.9 527.3V527.9 M384.8 527.9H385.7 M384.8 527.9V528.4 M384.8 528.4V529.6 M385.7 527.9V528.4 M385.7 528.4V529.6 M386.5 527.3V527.8 M386.5 527.8V529.6 M389.8 526.8V527.3 M387.8 527.3H390.5 M387.8 527.3V527.9 M387.7 527.9H388.8 M387.7 527.9V528.4 M387.7 528.4V529.6 M388.8 527.9V528.4 M388.8 528.4V529.6 M390.5 527.3V527.8 M390.0 527.8H391.4 M390.0 527.8V528.3 M390.0 528.3V529.6 M391.4 527.8V528.3 M391.4 528.3V529.6 M406.3 522.3V525.0 M395.8 525.0H407.4 M395.8 525.0V526.7 M395.1 526.7H399.9 M395.1 526.7V527.4 M393.5 527.4H396.2 M393.5 527.4V527.9 M392.4 527.9H394.2 M392.4 527.9V528.4 M392.4 528.4V529.6 M394.2 527.9V528.4 M394.2 528.4V529.6 M396.2 527.4V527.9 M395.7 527.9H397.0 M395.7 527.9V528.4 M395.7 528.4V529.6 M397.0 527.9V528.4 M397.0 528.4V529.6 M399.9 526.7V527.6 M398.4 527.6H400.4 M398.4 527.6V528.1 M398.4 528.1V529.6 M400.4 527.6V528.1 M399.6 528.1H401.0 M399.6 528.1V528.6 M399.6 528.6V529.6 M401.0 528.1V528.6 M401.0 528.6V529.6 M407.4 525.0V526.7 M403.4 526.7H409.5 M403.4 526.7V527.4 M402.9 527.4H405.7 M402.9 527.4V527.9 M402.1 527.9H403.9 M402.1 527.9V528.4 M402.1 528.4V529.6 M403.9 527.9V528.4 M403.9 528.4V529.6 M405.7 527.4V527.9 M405.0 527.9H406.4 M405.0 527.9V528.4 M405.0 528.4V529.6 M406.4 527.9V528.4 M406.4 528.4V529.6 M409.5 526.7V527.3 M407.6 527.3H410.5 M407.6 527.3V527.8 M407.4 527.8H408.6 M407.4 527.8V528.3 M407.4 528.3V529.6 M408.6 527.8V528.3 M408.6 528.3V529.6 M410.5 527.3V527.9 M409.8 527.9H411.4 M409.8 527.9V528.4 M409.8 528.4V529.6 M411.4 527.9V528.4 M411.4 528.4V529.6 M441.5 501.2V517.1 M429.6 517.1H454.6 M429.6 517.1V519.8 M422.9 519.8H436.7 M422.9 519.8V522.8 M416.0 522.8H427.2 M416.0 522.8V524.6 M415.2 524.6H419.9 M415.2 524.6V526.0 M413.2 526.0H415.4 M413.2 526.0V527.1 M412.6 527.1H413.5 M412.6 527.1V527.6 M412.6 527.6V529.6 M413.5 527.1V527.6 M413.5 527.6V529.6 M415.4 526.0V526.8 M414.6 526.8H416.5 M414.6 526.8V527.3 M414.6 527.3V529.6 M416.5 526.8V527.3 M415.8 527.3H416.8 M415.8 527.3V527.8 M415.8 527.8V529.6 M416.8 527.3V527.8 M416.8 527.8V529.6 M419.9 524.6V525.8 M419.1 525.8H420.8 M419.1 525.8V527.1 M418.5 527.1H419.6 M418.5 527.1V527.8 M417.7 527.8H418.7 M417.7 527.8V528.3 M417.7 528.3V529.6 M418.7 527.8V528.3 M418.7 528.3V529.6 M419.6 527.1V527.6 M419.6 527.6V529.6 M420.8 525.8V526.5 M420.8 526.5V529.6 M427.2 522.8V524.2 M423.6 524.2H427.5 M423.6 524.2V525.3 M423.0 525.3H424.4 M423.0 525.3V526.8 M422.4 526.8H423.5 M422.4 526.8V527.7 M422.4 527.7V529.6 M423.5 526.8V527.6 M423.5 527.6V529.6 M424.4 525.3V526.8 M424.4 526.8V529.6 M427.5 524.2V525.4 M426.6 525.4H429.4 M426.6 525.4V526.4 M426.1 526.4H427.5 M426.1 526.4V527.0 M425.4 527.0H426.3 M425.4 527.0V527.6 M425.4 527.6V529.6 M426.3 527.0V527.5 M426.3 527.5V529.6 M427.5 526.4V527.2 M427.5 527.2V529.6 M429.4 525.4V526.5 M428.8 526.5H429.7 M428.8 526.5V527.4 M428.8 527.4V529.6 M429.7 526.5V527.2 M429.7 527.2V529.6 M436.7 519.8V523.1 M434.4 523.1H439.4 M434.4 523.1V524.9 M432.1 524.9H436.1 M432.1 524.9V526.3 M431.1 526.3H433.5 M431.1 526.3V527.4 M431.1 527.4V529.6 M433.5 526.3V527.0 M432.9 527.0H434.4 M432.9 527.0V527.8 M432.2 527.8H433.3 M432.2 527.8V528.3 M432.2 528.3V529.6 M433.3 527.8V528.3 M433.3 528.3V529.6 M434.4 527.0V527.5 M434.4 527.5V529.6 M436.1 524.9V526.1 M435.5 526.1H436.4 M435.5 526.1V527.0 M435.5 527.0V529.6 M436.4 526.1V527.0 M436.4 527.0V529.6 M439.4 523.1V525.1 M438.4 525.1H441.3 M438.4 525.1V526.2 M437.7 526.2H439.4 M437.7 526.2V527.4 M437.5 527.4H438.2 M437.5 527.4V527.9 M437.5 527.9V529.6 M438.2 527.4V527.9 M438.2 527.9V529.6 M439.4 526.2V527.1 M439.4 527.1V529.6 M441.3 525.1V526.5 M440.6 526.5H441.8 M440.6 526.5V527.5 M440.6 527.5V529.6 M441.8 526.5V527.2 M441.8 527.2V529.6 M454.6 517.1V519.6 M444.0 519.6H450.6 M444.0 519.6V523.9 M443.7 523.9H446.5 M443.7 523.9V526.1 M443.0 526.1H444.4 M443.0 526.1V527.1 M442.6 527.1H443.3 M442.6 527.1V527.7 M442.6 527.7V529.6 M443.3 527.1V527.6 M443.3 527.6V529.6 M444.4 526.1V527.2 M444.4 527.2V529.6 M446.5 523.9V525.0 M445.4 525.0H446.9 M445.4 525.0V526.7 M445.4 526.7V529.6 M446.9 525.0V526.4 M446.9 526.4V529.6 M450.6 519.6V522.4 M450.3 522.4H453.7 M450.3 522.4V524.1 M448.5 524.1H450.7 M448.5 524.1V525.6 M448.2 525.6H448.9 M448.2 525.6V526.7 M448.2 526.7V529.6 M448.9 525.6V526.2 M448.9 526.2V529.6 M450.7 524.1V525.2 M450.4 525.2H451.8 M450.4 525.2V526.3 M449.7 526.3H450.6 M449.7 526.3V527.4 M449.7 527.4V529.6 M450.6 526.3V527.4 M450.6 527.4V529.6 M451.8 525.2V526.3 M451.8 526.3V529.6 M453.7 522.4V524.4 M452.7 524.4H453.9 M452.7 524.4V525.4 M452.7 525.4V529.6 M453.9 524.4V525.3 M453.5 525.3H454.2 M453.5 525.3V526.9 M453.5 526.9V529.6 M454.2 525.3V526.0 M454.2 526.0V529.6 M464.6 513.3V523.0 M460.8 523.0H472.8 M460.8 523.0V525.3 M458.4 525.3H464.6 M458.4 525.3V526.0 M457.0 526.0H460.0 M457.0 526.0V527.1 M455.6 527.1H457.6 M455.6 527.1V527.6 M455.6 527.6V529.6 M457.6 527.1V527.8 M456.8 527.8H458.0 M456.8 527.8V528.3 M456.8 528.3V529.6 M458.0 527.8V528.3 M458.0 528.3V529.6 M460.0 526.0V527.0 M459.1 527.0H460.4 M459.1 527.0V527.7 M459.1 527.7V529.6 M460.4 527.0V527.5 M460.4 527.5V529.6 M464.6 525.3V526.8 M462.5 526.8H467.4 M462.5 526.8V527.5 M462.1 527.5H463.9 M462.1 527.5V528.0 M461.4 528.0H462.5 M461.4 528.0V528.5 M461.4 528.5V529.6 M462.5 528.0V528.5 M462.5 528.5V529.6 M463.9 527.5V528.0 M464.0 528.0H465.0 M464.0 528.0V528.5 M464.0 528.5V529.6 M465.0 528.0V528.5 M465.0 528.5V529.6 M467.4 526.8V527.7 M466.9 527.7H468.9 M466.9 527.7V528.2 M466.5 528.2H467.6 M466.5 528.2V528.7 M466.5 528.7V529.6 M467.6 528.2V528.7 M467.6 528.7V529.6 M468.9 527.7V528.2 M468.5 528.2H469.4 M468.5 528.2V528.7 M468.5 528.7V529.6 M469.4 528.2V528.7 M469.4 528.7V529.6 M472.8 523.0V524.6 M470.9 524.6H475.0 M470.9 524.6V526.1 M470.8 526.1H471.8 M470.8 526.1V527.2 M470.8 527.2V529.6 M471.8 526.1V527.2 M471.8 527.2V529.6 M475.0 524.6V526.4 M473.6 526.4H476.9 M473.6 526.4V527.4 M473.4 527.4H474.6 M473.4 527.4V527.9 M472.9 527.9H473.6 M472.9 527.9V528.4 M472.9 528.4V529.6 M473.6 527.9V528.4 M473.6 528.4V529.6 M474.6 527.4V527.9 M474.6 527.9V529.6 M476.9 526.4V527.3 M476.1 527.3H477.3 M476.1 527.3V527.8 M476.1 527.8V529.6 M477.3 527.3V527.8 M477.3 527.8V529.6 M493.0 513.3V520.4 M481.2 520.4H504.6 M481.2 520.4V524.0 M480.7 524.0H489.8 M480.7 524.0V526.0 M479.5 526.0H483.5 M479.5 526.0V527.2 M478.7 527.2H480.2 M478.7 527.2V527.7 M478.7 527.7V529.6 M480.2 527.2V527.7 M480.2 527.7V529.6 M483.5 526.0V526.6 M482.0 526.6H484.3 M482.0 526.6V527.3 M481.3 527.3H482.6 M481.3 527.3V527.9 M481.3 527.9V529.6 M482.6 527.3V527.8 M482.6 527.8V529.6 M484.3 526.6V527.1 M484.0 527.1H484.7 M484.0 527.1V527.7 M484.0 527.7V529.6 M484.7 527.1V527.6 M484.7 527.6V529.6 M489.8 524.0V525.6 M486.1 525.6H491.0 M486.1 525.6V527.0 M485.8 527.0H486.9 M485.8 527.0V527.7 M485.8 527.7V529.6 M486.9 527.0V527.5 M486.9 527.5V529.6 M491.0 525.6V527.1 M489.5 527.1H492.1 M489.5 527.1V527.6 M488.0 527.6H489.5 M488.0 527.6V528.1 M488.0 528.1V529.6 M489.5 527.6V528.1 M489.3 528.1H490.3 M489.3 528.1V528.6 M489.3 528.6V529.6 M490.3 528.1V528.6 M490.3 528.6V529.6 M492.1 527.1V527.6 M491.3 527.6H492.3 M491.3 527.6V528.1 M491.3 528.1V529.6 M492.3 527.6V528.1 M492.3 528.1V529.6 M504.6 520.4V523.4 M502.5 523.4H514.6 M502.5 523.4V525.1 M495.8 525.1H505.1 M495.8 525.1V526.8 M493.9 526.8H497.6 M493.9 526.8V527.4 M494.1 527.4H495.3 M494.1 527.4V527.9 M493.5 527.9H494.4 M493.5 527.9V528.4 M493.5 528.4V529.6 M494.4 527.9V528.4 M494.4 528.4V529.6 M495.3 527.4V527.9 M495.3 527.9V529.6 M497.6 526.8V527.6 M497.4 527.6H499.3 M497.4 527.6V528.1 M496.4 528.1H498.0 M496.4 528.1V528.6 M496.4 528.6V529.6 M498.0 528.1V528.6 M498.0 528.6V529.6 M499.3 527.6V528.1 M499.3 528.1V529.6 M505.1 525.1V526.0 M501.3 526.0H505.9 M501.3 526.0V526.5 M500.9 526.5H502.4 M500.9 526.5V527.5 M500.6 527.5H501.5 M500.6 527.5V528.0 M500.6 528.0V529.6 M501.5 527.5V528.0 M501.5 528.0V529.6 M502.4 526.5V527.2 M502.4 527.2V529.6 M505.9 526.0V526.6 M505.1 526.6H507.3 M505.1 526.6V527.2 M504.1 527.2H505.5 M504.1 527.2V527.8 M504.1 527.8V529.6 M505.5 527.2V527.7 M504.9 527.7H505.9 M504.9 527.7V528.2 M504.9 528.2V529.6 M505.9 527.7V528.2 M505.9 528.2V529.6 M507.3 526.6V527.5 M507.3 527.5V529.6 M514.6 523.4V524.9 M510.2 524.9H516.3 M510.2 524.9V526.6 M508.9 526.6H512.0 M508.9 526.6V527.2 M508.6 527.2H510.1 M508.6 527.2V527.7 M508.6 527.7H509.3 M508.6 527.7V528.2 M508.6 528.2V529.6 M509.3 527.7V528.2 M509.3 528.2V529.6 M510.1 527.2V527.7 M510.1 527.7V529.6 M512.0 526.6V527.1 M511.3 527.1H512.9 M511.3 527.1V527.8 M511.3 527.8V529.6 M512.9 527.1V527.6 M512.3 527.6H512.9 M512.3 527.6V528.1 M512.3 528.1V529.6 M512.9 527.6V528.1 M512.9 528.1V529.6 M516.3 524.9V526.7 M514.7 526.7H517.6 M514.7 526.7V527.2 M513.9 527.2H514.9 M513.9 527.2V527.7 M513.9 527.7V529.6 M514.9 527.2V527.7 M514.9 527.7V529.6 M517.6 526.7V527.6 M516.4 527.6H518.3 M516.4 527.6V528.1 M516.1 528.1H516.9 M516.1 528.1V528.6 M516.1 528.6V529.6 M516.9 528.1V528.6 M516.9 528.6V529.6 M518.3 527.6V528.1 M517.9 528.1H519.2 M517.9 528.1V528.6 M517.9 528.6V529.6 M519.2 528.1V528.6 M519.2 528.6V529.6" stroke="#4a4a4a" stroke-width="0.9" fill="none"/>
<path d="M62.5 528.4H66.2 M67.1 528.4H71.7 M72.7 528.4H79.1 M79.5 528.4H81.6 M82.9 528.4H86.7 M87.3 528.4H96.3 M97.1 528.4H105.0 M105.8 528.4H112.3 M112.8 528.4H119.2 M120.6 528.4H126.2 M127.4 528.4H134.1 M134.5 528.4H141.8 M142.8 528.4H146.9 M147.3 528.4H155.3 M156.2 528.4H163.2 M164.6 528.4H171.6 M173.0 528.4H177.8 M179.0 528.4H184.1 M185.6 528.4H193.7 M194.1 528.4H197.1 M197.6 528.4H206.4 M207.2 528.4H213.6 M214.3 528.4H219.8 M220.6 528.4H225.0 M226.0 528.4H232.1 M233.5 528.4H240.3 M241.7 528.4H249.7 M251.2 528.4H257.9 M258.4 528.4H266.4 M267.9 528.4H276.2 M277.2 528.4H284.2 M284.7 528.4H292.5 M293.5 528.4H297.5 M297.9 528.4H305.9 M307.4 528.4H310.0 M311.3 528.4H316.1 M316.6 528.4H320.7 M321.9 528.4H330.0 M330.4 528.4H336.7 M337.0 528.4H344.0 M344.7 528.4H352.9 M354.4 528.4H359.9 M361.4 528.4H365.6 M366.0 528.4H372.2 M372.5 528.4H375.9 M376.7 528.4H383.0 M383.4 528.4H385.7 M387.1 528.4H391.3 M392.7 528.4H401.0 M401.8 528.4H407.0 M407.9 528.4H414.4 M415.4 528.4H421.3 M422.4 528.4H431.0 M431.9 528.4H436.9 M438.1 528.4H441.7 M442.4 528.4H451.2 M452.2 528.4H458.0 M458.3 528.4H463.2 M464.2 528.4H466.3 M467.4 528.4H473.8 M474.2 528.4H480.6 M481.4 528.4H488.2 M488.9 528.4H495.9 M497.0 528.4H499.2 M499.6 528.4H506.3 M507.8 528.4H511.5 M512.4 528.4H518.5 M519.2 528.4H520.0" stroke="#505050" stroke-width="1.3" fill="none"/>
<rect x="62.3" y="531.9" width="457.7" height="15.9" fill="#fff"/>
<rect x="62.10" y="531.9" width="23.90" height="15.9" fill="#f8f410"/>
<rect x="86.00" y="531.9" width="1.40" height="15.9" fill="#6e6a10"/>
<rect x="87.40" y="531.9" width="9.60" height="15.9" fill="#f8f410"/>
<rect x="97.00" y="531.9" width="1.30" height="15.9" fill="#6e6a10"/>
<rect x="98.30" y="531.9" width="1.30" height="15.9" fill="#f8f410"/>
<rect x="99.60" y="531.9" width="0.60" height="15.9" fill="#eeeef8"/>
<rect x="100.20" y="531.9" width="1.60" height="15.9" fill="#14147a"/>
<rect x="101.80" y="531.9" width="1.00" height="15.9" fill="#eeeef8"/>
<rect x="102.80" y="531.9" width="10.00" height="15.9" fill="#1212ee"/>
<rect x="112.80" y="531.9" width="1.50" height="15.9" fill="#eeeef8"/>
<rect x="114.30" y="531.9" width="6.20" height="15.9" fill="#1212ee"/>
<rect x="120.50" y="531.9" width="1.50" height="15.9" fill="#eeeef8"/>
<rect x="122.00" y="531.9" width="39.30" height="15.9" fill="#1212ee"/>
<rect x="161.30" y="531.9" width="1.00" height="15.9" fill="#eeeef8"/>
<rect x="162.30" y="531.9" width="8.10" height="15.9" fill="#f8f410"/>
<rect x="170.40" y="531.9" width="2.40" height="15.9" fill="#6e6a10"/>
<rect x="172.80" y="531.9" width="9.20" height="15.9" fill="#f8f410"/>
<rect x="182.00" y="531.9" width="1.10" height="15.9" fill="#eeeef8"/>
<rect x="183.10" y="531.9" width="1.70" height="15.9" fill="#14147a"/>
<rect x="184.80" y="531.9" width="1.80" height="15.9" fill="#8c8cd8"/>
<rect x="186.60" y="531.9" width="4.00" height="15.9" fill="#14147a"/>
<rect x="190.60" y="531.9" width="2.40" height="15.9" fill="#eeeef8"/>
<rect x="193.00" y="531.9" width="2.40" height="15.9" fill="#14147a"/>
<rect x="195.40" y="531.9" width="1.00" height="15.9" fill="#eeeef8"/>
<rect x="196.40" y="531.9" width="0.90" height="15.9" fill="#e07070"/>
<rect x="197.30" y="531.9" width="4.40" height="15.9" fill="#1212ee"/>
<rect x="201.70" y="531.9" width="0.90" height="15.9" fill="#eeeef8"/>
<rect x="202.60" y="531.9" width="2.60" height="15.9" fill="#f8f410"/>
<rect x="205.20" y="531.9" width="1.70" height="15.9" fill="#6e6a10"/>
<rect x="206.90" y="531.9" width="1.90" height="15.9" fill="#eeeef8"/>
<rect x="208.80" y="531.9" width="2.10" height="15.9" fill="#14147a"/>
<rect x="210.90" y="531.9" width="1.00" height="15.9" fill="#eeeef8"/>
<rect x="211.90" y="531.9" width="1.70" height="15.9" fill="#14147a"/>
<rect x="213.60" y="531.9" width="1.20" height="15.9" fill="#8c8cd8"/>
<rect x="214.80" y="531.9" width="1.20" height="15.9" fill="#14147a"/>
<rect x="216.00" y="531.9" width="1.50" height="15.9" fill="#f8f410"/>
<rect x="217.50" y="531.9" width="0.50" height="15.9" fill="#eeeef8"/>
<rect x="218.00" y="531.9" width="6.70" height="15.9" fill="#1212ee"/>
<rect x="224.70" y="531.9" width="1.30" height="15.9" fill="#eeeef8"/>
<rect x="226.00" y="531.9" width="26.00" height="15.9" fill="#1212ee"/>
<rect x="252.00" y="531.9" width="2.00" height="15.9" fill="#7a10a8"/>
<rect x="254.00" y="531.9" width="2.30" height="15.9" fill="#1212ee"/>
<rect x="256.30" y="531.9" width="1.00" height="15.9" fill="#7a10a8"/>
<rect x="257.30" y="531.9" width="3.40" height="15.9" fill="#1212ee"/>
<rect x="260.70" y="531.9" width="2.30" height="15.9" fill="#7a10a8"/>
<rect x="263.00" y="531.9" width="3.00" height="15.9" fill="#1212ee"/>
<rect x="266.00" y="531.9" width="2.80" height="15.9" fill="#c8103c"/>
<rect x="268.80" y="531.9" width="1.00" height="15.9" fill="#7a10a8"/>
<rect x="269.80" y="531.9" width="3.20" height="15.9" fill="#e0103a"/>
<rect x="273.00" y="531.9" width="4.50" height="15.9" fill="#1212ee"/>
<rect x="277.50" y="531.9" width="1.40" height="15.9" fill="#7a10a8"/>
<rect x="278.90" y="531.9" width="1.90" height="15.9" fill="#1212ee"/>
<rect x="280.80" y="531.9" width="1.50" height="15.9" fill="#7a10a8"/>
<rect x="282.30" y="531.9" width="2.90" height="15.9" fill="#1212ee"/>
<rect x="285.20" y="531.9" width="2.40" height="15.9" fill="#7a10a8"/>
<rect x="287.60" y="531.9" width="2.90" height="15.9" fill="#e0103a"/>
<rect x="290.50" y="531.9" width="1.90" height="15.9" fill="#7a10a8"/>
<rect x="292.40" y="531.9" width="2.40" height="15.9" fill="#e0103a"/>
<rect x="294.80" y="531.9" width="2.90" height="15.9" fill="#7a10a8"/>
<rect x="297.70" y="531.9" width="5.20" height="15.9" fill="#e0103a"/>
<rect x="302.90" y="531.9" width="1.40" height="15.9" fill="#c8103c"/>
<rect x="304.30" y="531.9" width="6.30" height="15.9" fill="#f41a0c"/>
<rect x="310.60" y="531.9" width="2.40" height="15.9" fill="#c8103c"/>
<rect x="313.00" y="531.9" width="5.75" height="15.9" fill="#f41a0c"/>
<rect x="318.75" y="531.9" width="2.85" height="15.9" fill="#7a10a8"/>
<rect x="321.60" y="531.9" width="15.40" height="15.9" fill="#f41a0c"/>
<rect x="337.00" y="531.9" width="1.00" height="15.9" fill="#eeeef8"/>
<rect x="338.00" y="531.9" width="2.40" height="15.9" fill="#c8103c"/>
<rect x="340.40" y="531.9" width="1.00" height="15.9" fill="#f88a0a"/>
<rect x="341.40" y="531.9" width="1.40" height="15.9" fill="#eeeef8"/>
<rect x="342.80" y="531.9" width="2.90" height="15.9" fill="#14147a"/>
<rect x="345.70" y="531.9" width="0.90" height="15.9" fill="#eeeef8"/>
<rect x="346.60" y="531.9" width="5.20" height="15.9" fill="#f41a0c"/>
<rect x="351.80" y="531.9" width="1.50" height="15.9" fill="#7a10a8"/>
<rect x="353.30" y="531.9" width="4.30" height="15.9" fill="#1212ee"/>
<rect x="357.60" y="531.9" width="8.70" height="15.9" fill="#f41a0c"/>
<rect x="366.30" y="531.9" width="2.40" height="15.9" fill="#7a10a8"/>
<rect x="368.70" y="531.9" width="151.30" height="15.9" fill="#f41a0c"/>
<rect x="62.10" y="548.8" width="3.20" height="15.9" fill="#128c12"/>
<rect x="65.30" y="548.8" width="1.90" height="15.9" fill="#0a640a"/>
<rect x="67.20" y="548.8" width="14.90" height="15.9" fill="#128c12"/>
<rect x="82.10" y="548.8" width="1.50" height="15.9" fill="#28f0f0"/>
<rect x="83.60" y="548.8" width="4.40" height="15.9" fill="#c49030"/>
<rect x="88.00" y="548.8" width="1.30" height="15.9" fill="#8a2a10"/>
<rect x="89.30" y="548.8" width="8.70" height="15.9" fill="#f88a0a"/>
<rect x="98.00" y="548.8" width="1.40" height="15.9" fill="#8a2a10"/>
<rect x="99.40" y="548.8" width="1.60" height="15.9" fill="#128c12"/>
<rect x="101.00" y="548.8" width="2.00" height="15.9" fill="#0a640a"/>
<rect x="103.00" y="548.8" width="3.60" height="15.9" fill="#128c12"/>
<rect x="106.60" y="548.8" width="1.90" height="15.9" fill="#7aa020"/>
<rect x="108.50" y="548.8" width="0.70" height="15.9" fill="#128c12"/>
<rect x="109.20" y="548.8" width="2.20" height="15.9" fill="#c49030"/>
<rect x="111.40" y="548.8" width="2.40" height="15.9" fill="#8a2a10"/>
<rect x="113.80" y="548.8" width="1.90" height="15.9" fill="#f88a0a"/>
<rect x="115.70" y="548.8" width="1.90" height="15.9" fill="#c84010"/>
<rect x="117.60" y="548.8" width="3.40" height="15.9" fill="#f88a0a"/>
<rect x="121.00" y="548.8" width="0.80" height="15.9" fill="#8a2a10"/>
<rect x="121.80" y="548.8" width="2.40" height="15.9" fill="#28f0f0"/>
<rect x="124.20" y="548.8" width="6.40" height="15.9" fill="#f88a0a"/>
<rect x="130.60" y="548.8" width="1.40" height="15.9" fill="#8a2a10"/>
<rect x="132.00" y="548.8" width="2.00" height="15.9" fill="#c49030"/>
<rect x="134.00" y="548.8" width="8.30" height="15.9" fill="#128c12"/>
<rect x="142.30" y="548.8" width="24.90" height="15.9" fill="#f88a0a"/>
<rect x="167.20" y="548.8" width="10.20" height="15.9" fill="#8c0a3c"/>
<rect x="177.40" y="548.8" width="4.60" height="15.9" fill="#f88a0a"/>
<rect x="182.00" y="548.8" width="1.40" height="15.9" fill="#8c0a3c"/>
<rect x="183.40" y="548.8" width="1.60" height="15.9" fill="#208888"/>
<rect x="185.00" y="548.8" width="3.20" height="15.9" fill="#8c0a3c"/>
<rect x="188.20" y="548.8" width="2.40" height="15.9" fill="#208888"/>
<rect x="190.60" y="548.8" width="6.00" height="15.9" fill="#28f0f0"/>
<rect x="196.60" y="548.8" width="1.70" height="15.9" fill="#8c0a3c"/>
<rect x="198.30" y="548.8" width="2.50" height="15.9" fill="#208888"/>
<rect x="200.80" y="548.8" width="17.80" height="15.9" fill="#28f0f0"/>
<rect x="218.60" y="548.8" width="1.70" height="15.9" fill="#208888"/>
<rect x="220.30" y="548.8" width="1.50" height="15.9" fill="#c4b070"/>
<rect x="221.80" y="548.8" width="1.90" height="15.9" fill="#8c0a3c"/>
<rect x="223.70" y="548.8" width="2.90" height="15.9" fill="#86d49a"/>
<rect x="226.60" y="548.8" width="2.60" height="15.9" fill="#f88a0a"/>
<rect x="229.20" y="548.8" width="3.40" height="15.9" fill="#8c0a3c"/>
<rect x="232.60" y="548.8" width="15.20" height="15.9" fill="#28f0f0"/>
<rect x="247.80" y="548.8" width="2.80" height="15.9" fill="#f88a0a"/>
<rect x="250.60" y="548.8" width="3.40" height="15.9" fill="#7aa020"/>
<rect x="254.00" y="548.8" width="2.30" height="15.9" fill="#86d49a"/>
<rect x="256.30" y="548.8" width="3.40" height="15.9" fill="#128c12"/>
<rect x="259.70" y="548.8" width="2.90" height="15.9" fill="#7aa020"/>
<rect x="262.60" y="548.8" width="3.40" height="15.9" fill="#f88a0a"/>
<rect x="266.00" y="548.8" width="2.30" height="15.9" fill="#8c0a3c"/>
<rect x="268.30" y="548.8" width="1.50" height="15.9" fill="#f88a0a"/>
<rect x="269.80" y="548.8" width="2.90" height="15.9" fill="#8c0a3c"/>
<rect x="272.70" y="548.8" width="0.90" height="15.9" fill="#f88a0a"/>
<rect x="273.60" y="548.8" width="1.40" height="15.9" fill="#8c0a3c"/>
<rect x="275.00" y="548.8" width="5.80" height="15.9" fill="#f88a0a"/>
<rect x="280.80" y="548.8" width="2.00" height="15.9" fill="#7aa020"/>
<rect x="282.80" y="548.8" width="1.90" height="15.9" fill="#86d49a"/>
<rect x="284.70" y="548.8" width="9.10" height="15.9" fill="#8c0a3c"/>
<rect x="293.80" y="548.8" width="2.90" height="15.9" fill="#28f0f0"/>
<rect x="296.70" y="548.8" width="1.50" height="15.9" fill="#86d49a"/>
<rect x="298.20" y="548.8" width="4.70" height="15.9" fill="#8c0a3c"/>
<rect x="302.90" y="548.8" width="3.35" height="15.9" fill="#28f0f0"/>
<rect x="306.25" y="548.8" width="1.45" height="15.9" fill="#8c0a3c"/>
<rect x="307.70" y="548.8" width="1.00" height="15.9" fill="#208888"/>
<rect x="308.70" y="548.8" width="1.90" height="15.9" fill="#104060"/>
<rect x="310.60" y="548.8" width="5.70" height="15.9" fill="#28f0f0"/>
<rect x="316.30" y="548.8" width="1.00" height="15.9" fill="#208888"/>
<rect x="317.30" y="548.8" width="2.90" height="15.9" fill="#78a8d8"/>
<rect x="320.20" y="548.8" width="1.40" height="15.9" fill="#208888"/>
<rect x="321.60" y="548.8" width="6.30" height="15.9" fill="#8c0a3c"/>
<rect x="327.90" y="548.8" width="1.90" height="15.9" fill="#78a8d8"/>
<rect x="329.80" y="548.8" width="2.40" height="15.9" fill="#8c0a3c"/>
<rect x="332.20" y="548.8" width="1.90" height="15.9" fill="#28f0f0"/>
<rect x="334.10" y="548.8" width="2.40" height="15.9" fill="#8c0a3c"/>
<rect x="336.50" y="548.8" width="1.50" height="15.9" fill="#86d49a"/>
<rect x="338.00" y="548.8" width="2.40" height="15.9" fill="#8c0a3c"/>
<rect x="340.40" y="548.8" width="1.90" height="15.9" fill="#28f0f0"/>
<rect x="342.30" y="548.8" width="2.40" height="15.9" fill="#208888"/>
<rect x="344.70" y="548.8" width="3.30" height="15.9" fill="#a07070"/>
<rect x="348.00" y="548.8" width="3.80" height="15.9" fill="#8c0a3c"/>
<rect x="351.80" y="548.8" width="4.40" height="15.9" fill="#f88a0a"/>
<rect x="356.20" y="548.8" width="1.90" height="15.9" fill="#7aa020"/>
<rect x="358.10" y="548.8" width="4.80" height="15.9" fill="#8c0a3c"/>
<rect x="362.90" y="548.8" width="1.40" height="15.9" fill="#78a8d8"/>
<rect x="364.30" y="548.8" width="2.50" height="15.9" fill="#8c0a3c"/>
<rect x="366.80" y="548.8" width="1.90" height="15.9" fill="#b0a0d8"/>
<rect x="368.70" y="548.8" width="4.30" height="15.9" fill="#8c0a3c"/>
<rect x="373.00" y="548.8" width="1.00" height="15.9" fill="#e07070"/>
<rect x="374.00" y="548.8" width="1.90" height="15.9" fill="#28f0f0"/>
<rect x="375.90" y="548.8" width="2.90" height="15.9" fill="#7aa020"/>
<rect x="378.80" y="548.8" width="1.40" height="15.9" fill="#28f0f0"/>
<rect x="380.20" y="548.8" width="1.50" height="15.9" fill="#208888"/>
<rect x="381.70" y="548.8" width="3.80" height="15.9" fill="#4a80b0"/>
<rect x="385.50" y="548.8" width="2.40" height="15.9" fill="#28f0f0"/>
<rect x="387.90" y="548.8" width="3.85" height="15.9" fill="#8c0a3c"/>
<rect x="391.75" y="548.8" width="2.45" height="15.9" fill="#f88a0a"/>
<rect x="394.20" y="548.8" width="1.80" height="15.9" fill="#8c0a3c"/>
<rect x="396.00" y="548.8" width="1.00" height="15.9" fill="#f88a0a"/>
<rect x="397.00" y="548.8" width="3.30" height="15.9" fill="#8c0a3c"/>
<rect x="400.30" y="548.8" width="8.70" height="15.9" fill="#f88a0a"/>
<rect x="409.00" y="548.8" width="1.90" height="15.9" fill="#8a2a10"/>
<rect x="410.90" y="548.8" width="9.10" height="15.9" fill="#f88a0a"/>
<rect x="420.00" y="548.8" width="2.00" height="15.9" fill="#8a2a10"/>
<rect x="422.00" y="548.8" width="4.30" height="15.9" fill="#c4b070"/>
<rect x="426.30" y="548.8" width="1.40" height="15.9" fill="#8a2a10"/>
<rect x="427.70" y="548.8" width="4.30" height="15.9" fill="#f88a0a"/>
<rect x="432.00" y="548.8" width="1.00" height="15.9" fill="#208888"/>
<rect x="433.00" y="548.8" width="3.00" height="15.9" fill="#28f0f0"/>
<rect x="436.00" y="548.8" width="2.80" height="15.9" fill="#8c0a3c"/>
<rect x="438.80" y="548.8" width="1.40" height="15.9" fill="#f88a0a"/>
<rect x="440.20" y="548.8" width="1.50" height="15.9" fill="#8a2a10"/>
<rect x="441.70" y="548.8" width="1.40" height="15.9" fill="#78a8d8"/>
<rect x="443.10" y="548.8" width="0.90" height="15.9" fill="#102050"/>
<rect x="444.00" y="548.8" width="2.00" height="15.9" fill="#f88a0a"/>
<rect x="446.00" y="548.8" width="1.80" height="15.9" fill="#8c0a3c"/>
<rect x="447.80" y="548.8" width="2.00" height="15.9" fill="#f88a0a"/>
<rect x="449.80" y="548.8" width="1.40" height="15.9" fill="#208888"/>
<rect x="451.20" y="548.8" width="1.00" height="15.9" fill="#86d49a"/>
<rect x="452.20" y="548.8" width="2.40" height="15.9" fill="#8c0a3c"/>
<rect x="454.60" y="548.8" width="6.20" height="15.9" fill="#28f0f0"/>
<rect x="460.80" y="548.8" width="5.30" height="15.9" fill="#f88a0a"/>
<rect x="466.10" y="548.8" width="0.90" height="15.9" fill="#303030"/>
<rect x="467.00" y="548.8" width="10.70" height="15.9" fill="#86d49a"/>
<rect x="477.70" y="548.8" width="1.40" height="15.9" fill="#8c0a3c"/>
<rect x="479.10" y="548.8" width="1.90" height="15.9" fill="#f88a0a"/>
<rect x="481.00" y="548.8" width="1.50" height="15.9" fill="#8a2a10"/>
<rect x="482.50" y="548.8" width="1.10" height="15.9" fill="#f88a0a"/>
<rect x="483.60" y="548.8" width="3.20" height="15.9" fill="#86d49a"/>
<rect x="486.80" y="548.8" width="4.80" height="15.9" fill="#8c0a3c"/>
<rect x="491.60" y="548.8" width="8.90" height="15.9" fill="#f88a0a"/>
<rect x="500.50" y="548.8" width="1.40" height="15.9" fill="#8c0a3c"/>
<rect x="501.90" y="548.8" width="3.10" height="15.9" fill="#c4b070"/>
<rect x="505.00" y="548.8" width="1.30" height="15.9" fill="#102050"/>
<rect x="506.30" y="548.8" width="0.90" height="15.9" fill="#f88a0a"/>
<rect x="507.20" y="548.8" width="0.90" height="15.9" fill="#8a2a10"/>
<rect x="508.10" y="548.8" width="2.30" height="15.9" fill="#f88a0a"/>
<rect x="510.40" y="548.8" width="0.85" height="15.9" fill="#208888"/>
<rect x="511.25" y="548.8" width="3.15" height="15.9" fill="#28f0f0"/>
<rect x="514.40" y="548.8" width="0.90" height="15.9" fill="#208888"/>
<rect x="515.30" y="548.8" width="1.30" height="15.9" fill="#4a80b0"/>
<rect x="516.60" y="548.8" width="3.40" height="15.9" fill="#28f0f0"/>
<rect x="85.80" y="565.8" width="2.10" height="16.2" fill="#f8f4a0"/>
<rect x="97.00" y="565.8" width="1.00" height="16.2" fill="#f8f4a0"/>
<rect x="99.40" y="565.8" width="4.35" height="16.2" fill="#f8f410"/>
<rect x="104.20" y="565.8" width="0.80" height="16.2" fill="#14147a"/>
<rect x="105.00" y="565.8" width="1.60" height="16.2" fill="#f8f410"/>
<rect x="106.60" y="565.8" width="1.00" height="16.2" fill="#6e6a10"/>
<rect x="107.60" y="565.8" width="0.40" height="16.2" fill="#8c8cd8"/>
<rect x="108.00" y="565.8" width="1.00" height="16.2" fill="#6e6a10"/>
<rect x="109.70" y="565.8" width="2.90" height="16.2" fill="#14147a"/>
<rect x="114.30" y="565.8" width="6.20" height="16.2" fill="#1212ee"/>
<rect x="122.20" y="565.8" width="2.10" height="16.2" fill="#1212ee"/>
<rect x="124.30" y="565.8" width="2.90" height="16.2" fill="#7a10a8"/>
<rect x="127.20" y="565.8" width="2.80" height="16.2" fill="#1212ee"/>
<rect x="131.60" y="565.8" width="9.60" height="16.2" fill="#1212ee"/>
<rect x="143.60" y="565.8" width="2.90" height="16.2" fill="#14147a"/>
<rect x="147.40" y="565.8" width="5.30" height="16.2" fill="#f8f410"/>
<rect x="153.20" y="565.8" width="2.80" height="16.2" fill="#707050"/>
<rect x="156.00" y="565.8" width="2.00" height="16.2" fill="#f8f4a0"/>
<rect x="158.90" y="565.8" width="1.90" height="16.2" fill="#6e6a10"/>
<rect x="170.40" y="565.8" width="2.90" height="16.2" fill="#f8f4a0"/>
<rect x="183.90" y="565.8" width="0.90" height="16.2" fill="#14147a"/>
<rect x="184.80" y="565.8" width="1.80" height="16.2" fill="#8c8cd8"/>
<rect x="186.60" y="565.8" width="4.00" height="16.2" fill="#1212ee"/>
<rect x="193.00" y="565.8" width="2.40" height="16.2" fill="#1212ee"/>
<rect x="197.50" y="565.8" width="3.70" height="16.2" fill="#1212ee"/>
<rect x="205.00" y="565.8" width="2.00" height="16.2" fill="#8c8cd8"/>
<rect x="207.00" y="565.8" width="2.80" height="16.2" fill="#f8f4a0"/>
<rect x="209.80" y="565.8" width="1.40" height="16.2" fill="#14147a"/>
<rect x="211.90" y="565.8" width="1.70" height="16.2" fill="#1212ee"/>
<rect x="213.60" y="565.8" width="4.80" height="16.2" fill="#f8f4a0"/>
<rect x="218.40" y="565.8" width="2.70" height="16.2" fill="#e03010"/>
<rect x="221.10" y="565.8" width="2.60" height="16.2" fill="#f8f410"/>
<rect x="223.70" y="565.8" width="1.30" height="16.2" fill="#14147a"/>
<rect x="225.90" y="565.8" width="4.10" height="16.2" fill="#1212ee"/>
<rect x="230.00" y="565.8" width="2.70" height="16.2" fill="#f8f410"/>
<rect x="232.70" y="565.8" width="1.90" height="16.2" fill="#14147a"/>
<rect x="234.60" y="565.8" width="1.10" height="16.2" fill="#8c8cd8"/>
<rect x="235.70" y="565.8" width="2.40" height="16.2" fill="#1212ee"/>
<rect x="238.10" y="565.8" width="1.30" height="16.2" fill="#14147a"/>
<rect x="239.40" y="565.8" width="3.10" height="16.2" fill="#f8f410"/>
<rect x="243.00" y="565.8" width="3.30" height="16.2" fill="#1212ee"/>
<rect x="246.30" y="565.8" width="2.40" height="16.2" fill="#7a10a8"/>
<rect x="248.70" y="565.8" width="4.70" height="16.2" fill="#c8103c"/>
<rect x="254.10" y="565.8" width="2.20" height="16.2" fill="#f41a0c"/>
<rect x="257.00" y="565.8" width="3.70" height="16.2" fill="#c8103c"/>
<rect x="263.00" y="565.8" width="3.00" height="16.2" fill="#c8103c"/>
<rect x="268.30" y="565.8" width="1.50" height="16.2" fill="#14147a"/>
<rect x="271.70" y="565.8" width="1.00" height="16.2" fill="#e07070"/>
<rect x="273.60" y="565.8" width="2.90" height="16.2" fill="#7a10a8"/>
<rect x="278.90" y="565.8" width="1.90" height="16.2" fill="#14147a"/>
<rect x="281.80" y="565.8" width="3.40" height="16.2" fill="#a01060"/>
<rect x="286.10" y="565.8" width="1.90" height="16.2" fill="#e07070"/>
<rect x="291.00" y="565.8" width="1.40" height="16.2" fill="#c8103c"/>
<rect x="294.80" y="565.8" width="1.90" height="16.2" fill="#14147a"/>
<rect x="302.90" y="565.8" width="1.90" height="16.2" fill="#e07070"/>
<rect x="311.00" y="565.8" width="2.00" height="16.2" fill="#e07070"/>
<rect x="318.75" y="565.8" width="1.95" height="16.2" fill="#e07070"/>
<rect x="321.20" y="565.8" width="1.80" height="16.2" fill="#e07070"/>
<rect x="338.00" y="565.8" width="1.90" height="16.2" fill="#6060e0"/>
<rect x="343.30" y="565.8" width="2.90" height="16.2" fill="#14147a"/>
<rect x="352.00" y="565.8" width="1.00" height="16.2" fill="#b06060"/>
<rect x="353.80" y="565.8" width="3.80" height="16.2" fill="#f41a0c"/>
<rect x="366.75" y="565.8" width="1.95" height="16.2" fill="#b06060"/>
<text x="0" y="544.6" font-size="10.2" fill="#282828">Class</text>
<text x="0" y="561" font-size="10.2" fill="#282828">Center</text>
<text x="0" y="577.8" font-size="10.2" fill="#282828">Classification</text>
</svg></body></html>
